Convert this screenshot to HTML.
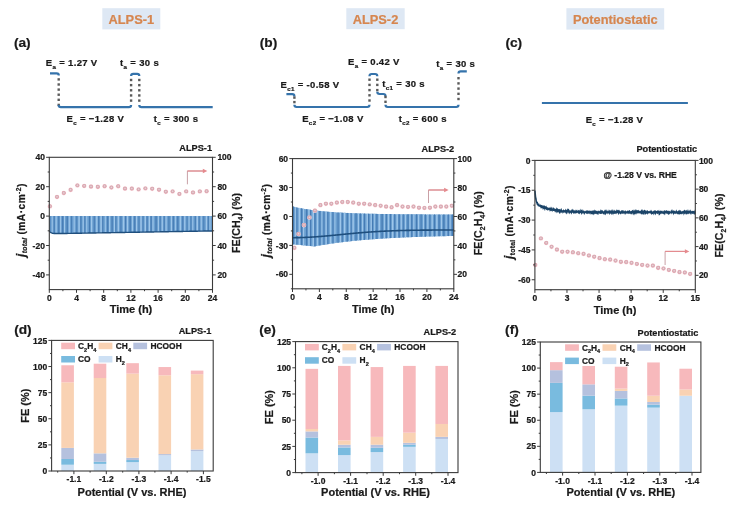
<!DOCTYPE html>
<html><head><meta charset="utf-8"><style>
html,body{margin:0;padding:0;background:#fff;}
body{width:734px;height:508px;overflow:hidden;}
svg{display:block;font-family:"Liberation Sans",sans-serif;filter:blur(0.35px);}
text{stroke:#1a1a1a;stroke-width:0.22px;}
text.or{stroke:#d6864f;}
</style></head><body>
<svg width="734" height="508" viewBox="0 0 734 508">
<defs>
<radialGradient id="sph" cx="0.5" cy="0.45" r="0.5">
<stop offset="0" stop-color="#ecdbdf"/>
<stop offset="0.5" stop-color="#d8acb5"/>
<stop offset="0.8" stop-color="#e3adb6"/>
<stop offset="1" stop-color="#f8d6db"/>
</radialGradient>
</defs>
<rect width="734" height="508" fill="#fff"/>
<rect x="102.30" y="8.20" width="58.00" height="21.20" fill="#dee8f4" />
<text x="131.3" y="23.5" font-size="12.8" text-anchor="middle" font-weight="bold" fill="#d6864f" class="or">ALPS-1</text>
<rect x="346.30" y="8.20" width="58.40" height="21.00" fill="#dee8f4" />
<text x="375.5" y="23.5" font-size="12.8" text-anchor="middle" font-weight="bold" fill="#d6864f" class="or">ALPS-2</text>
<rect x="566.40" y="8.20" width="97.80" height="21.40" fill="#dee8f4" />
<text x="615.3" y="23.5" font-size="12.8" text-anchor="middle" font-weight="bold" fill="#d6864f" class="or">Potentiostatic</text>
<text x="13.9" y="46.9" font-size="13.7" text-anchor="start" font-weight="bold" fill="#1a1a1a" >(a)</text>
<text x="259.8" y="46.9" font-size="13.7" text-anchor="start" font-weight="bold" fill="#1a1a1a" >(b)</text>
<text x="505.4" y="47.4" font-size="13.7" text-anchor="start" font-weight="bold" fill="#1a1a1a" >(c)</text>
<text x="14.2" y="334.0" font-size="13.7" text-anchor="start" font-weight="bold" fill="#1a1a1a" >(d)</text>
<text x="259.2" y="333.9" font-size="13.7" text-anchor="start" font-weight="bold" fill="#1a1a1a" >(e)</text>
<text x="505.1" y="334.0" font-size="13.7" text-anchor="start" font-weight="bold" fill="#1a1a1a" >(f)</text>
<path d="M50.00,73.40 L56.60,73.40 Q58.80,73.40 58.80,75.60" fill="none" stroke="#3573ab" stroke-width="2.2"/>
<rect x="57.50" y="78.20" width="2.40" height="2.40" fill="#5a5a5a" />
<rect x="57.50" y="83.30" width="2.40" height="2.40" fill="#5a5a5a" />
<rect x="57.50" y="88.40" width="2.40" height="2.40" fill="#5a5a5a" />
<rect x="57.50" y="93.50" width="2.40" height="2.40" fill="#5a5a5a" />
<rect x="57.50" y="98.60" width="2.40" height="2.40" fill="#5a5a5a" />
<rect x="57.50" y="103.70" width="2.40" height="2.40" fill="#5a5a5a" />
<path d="M58.70,105.00 Q58.70,107.20 60.90,107.20 L128.90,107.20 Q131.10,107.20 131.10,105.00" fill="none" stroke="#3573ab" stroke-width="2.2"/>
<rect x="129.90" y="78.80" width="2.40" height="2.40" fill="#5a5a5a" />
<rect x="129.90" y="83.95" width="2.40" height="2.40" fill="#5a5a5a" />
<rect x="129.90" y="89.10" width="2.40" height="2.40" fill="#5a5a5a" />
<rect x="129.90" y="94.25" width="2.40" height="2.40" fill="#5a5a5a" />
<rect x="129.90" y="99.40" width="2.40" height="2.40" fill="#5a5a5a" />
<path d="M131.10,76.00 Q131.10,73.80 133.30,73.80 L137.10,73.80 Q139.30,73.80 139.30,76.00" fill="none" stroke="#3573ab" stroke-width="2.2"/>
<rect x="138.10" y="78.80" width="2.40" height="2.40" fill="#5a5a5a" />
<rect x="138.10" y="83.95" width="2.40" height="2.40" fill="#5a5a5a" />
<rect x="138.10" y="89.10" width="2.40" height="2.40" fill="#5a5a5a" />
<rect x="138.10" y="94.25" width="2.40" height="2.40" fill="#5a5a5a" />
<rect x="138.10" y="99.40" width="2.40" height="2.40" fill="#5a5a5a" />
<path d="M139.30,105.00 Q139.30,107.20 141.50,107.20 L212.70,107.20" fill="none" stroke="#3573ab" stroke-width="2.2"/>
<text x="45.8" y="66.3" font-size="9.5" font-weight="bold" letter-spacing="0.33" fill="#1a1a1a">E<tspan font-size="6.2" dy="3.0">a</tspan><tspan dy="-3.0"> = 1.27 V</tspan></text>
<text x="66.6" y="121.5" font-size="9.5" font-weight="bold" letter-spacing="0.33" fill="#1a1a1a">E<tspan font-size="6.2" dy="3.0">c</tspan><tspan dy="-3.0"> = −1.28 V</tspan></text>
<text x="120.1" y="66.1" font-size="9.5" font-weight="bold" letter-spacing="0.33" fill="#1a1a1a">t<tspan font-size="6.2" dy="3.0">a</tspan><tspan dy="-3.0"> = 30 s</tspan></text>
<text x="153.8" y="122.0" font-size="9.5" font-weight="bold" letter-spacing="0.33" fill="#1a1a1a">t<tspan font-size="6.2" dy="3.0">c</tspan><tspan dy="-3.0"> = 300 s</tspan></text>
<path d="M286.40,94.20 L292.20,94.20 Q294.40,94.20 294.40,96.40" fill="none" stroke="#3573ab" stroke-width="2.2"/>
<rect x="293.20" y="96.40" width="2.40" height="2.40" fill="#5a5a5a" />
<rect x="293.20" y="100.90" width="2.40" height="2.40" fill="#5a5a5a" />
<path d="M294.40,104.80 Q294.40,107.00 296.60,107.00 L367.30,107.00 Q369.50,107.00 369.50,104.80" fill="none" stroke="#3573ab" stroke-width="2.2"/>
<rect x="368.30" y="78.50" width="2.40" height="2.40" fill="#5a5a5a" />
<rect x="368.30" y="83.70" width="2.40" height="2.40" fill="#5a5a5a" />
<rect x="368.30" y="88.90" width="2.40" height="2.40" fill="#5a5a5a" />
<rect x="368.30" y="94.10" width="2.40" height="2.40" fill="#5a5a5a" />
<rect x="368.30" y="99.30" width="2.40" height="2.40" fill="#5a5a5a" />
<path d="M369.50,76.20 Q369.50,74.00 371.70,74.00 L375.10,74.00 Q377.30,74.00 377.30,76.20" fill="none" stroke="#3573ab" stroke-width="2.2"/>
<rect x="376.10" y="78.50" width="2.40" height="2.40" fill="#5a5a5a" />
<rect x="376.10" y="83.70" width="2.40" height="2.40" fill="#5a5a5a" />
<rect x="376.10" y="88.90" width="2.40" height="2.40" fill="#5a5a5a" />
<path d="M377.30,91.80 Q377.30,94.00 379.50,94.00 L383.30,94.00 Q385.50,94.00 385.50,96.20" fill="none" stroke="#3573ab" stroke-width="2.2"/>
<rect x="384.30" y="95.80" width="2.40" height="2.40" fill="#5a5a5a" />
<rect x="384.30" y="100.60" width="2.40" height="2.40" fill="#5a5a5a" />
<path d="M385.50,104.80 Q385.50,107.00 387.70,107.00 L456.30,107.00 Q458.50,107.00 458.50,104.80" fill="none" stroke="#3573ab" stroke-width="2.2"/>
<rect x="457.30" y="77.00" width="2.40" height="2.40" fill="#5a5a5a" />
<rect x="457.30" y="82.20" width="2.40" height="2.40" fill="#5a5a5a" />
<rect x="457.30" y="87.40" width="2.40" height="2.40" fill="#5a5a5a" />
<rect x="457.30" y="92.60" width="2.40" height="2.40" fill="#5a5a5a" />
<rect x="457.30" y="97.80" width="2.40" height="2.40" fill="#5a5a5a" />
<path d="M458.50,73.60 Q458.50,71.40 460.70,71.40 L466.80,71.40" fill="none" stroke="#3573ab" stroke-width="2.2"/>
<text x="280.5" y="87.5" font-size="9.5" font-weight="bold" letter-spacing="0.33" fill="#1a1a1a">E<tspan font-size="6.2" dy="3.0">c1</tspan><tspan dy="-3.0"> = -0.58 V</tspan></text>
<text x="302.2" y="121.6" font-size="9.5" font-weight="bold" letter-spacing="0.33" fill="#1a1a1a">E<tspan font-size="6.2" dy="3.0">c2</tspan><tspan dy="-3.0"> = −1.08 V</tspan></text>
<text x="348.0" y="65.3" font-size="9.5" font-weight="bold" letter-spacing="0.33" fill="#1a1a1a">E<tspan font-size="6.2" dy="3.0">a</tspan><tspan dy="-3.0"> = 0.42 V</tspan></text>
<text x="382.3" y="87.2" font-size="9.5" font-weight="bold" letter-spacing="0.33" fill="#1a1a1a">t<tspan font-size="6.2" dy="3.0">c1</tspan><tspan dy="-3.0"> = 30 s</tspan></text>
<text x="436.3" y="66.8" font-size="9.5" font-weight="bold" letter-spacing="0.33" fill="#1a1a1a">t<tspan font-size="6.2" dy="3.0">a</tspan><tspan dy="-3.0"> = 30 s</tspan></text>
<text x="398.7" y="122.1" font-size="9.5" font-weight="bold" letter-spacing="0.33" fill="#1a1a1a">t<tspan font-size="6.2" dy="3.0">c2</tspan><tspan dy="-3.0"> = 600 s</tspan></text>
<line x1="541.90" y1="103.00" x2="687.90" y2="103.00" stroke="#3573ab" stroke-width="2.2" />
<text x="585.7" y="122.6" font-size="9.5" font-weight="bold" letter-spacing="0.33" fill="#1a1a1a">E<tspan font-size="6.2" dy="3.0">c</tspan><tspan dy="-3.0"> = −1.28 V</tspan></text>
<path d="M49.44,216.10 L50.79,216.10 L52.15,216.10 L53.51,216.10 L54.87,216.10 L56.23,216.10 L57.59,216.10 L58.95,216.10 L60.31,216.10 L61.67,216.10 L63.02,216.10 L64.38,216.10 L65.74,216.10 L67.10,216.10 L68.46,216.10 L69.82,216.10 L71.18,216.10 L72.54,216.10 L73.90,216.10 L75.25,216.10 L76.61,216.10 L77.97,216.10 L79.33,216.10 L80.69,216.10 L82.05,216.10 L83.41,216.10 L84.77,216.10 L86.13,216.10 L87.48,216.10 L88.84,216.10 L90.20,216.10 L91.56,216.10 L92.92,216.10 L94.28,216.10 L95.64,216.10 L97.00,216.10 L98.36,216.10 L99.71,216.10 L101.07,216.10 L102.43,216.10 L103.79,216.10 L105.15,216.10 L106.51,216.10 L107.87,216.10 L109.23,216.10 L110.58,216.10 L111.94,216.10 L113.30,216.10 L114.66,216.10 L116.02,216.10 L117.38,216.10 L118.74,216.10 L120.10,216.10 L121.46,216.10 L122.81,216.10 L124.17,216.10 L125.53,216.10 L126.89,216.10 L128.25,216.10 L129.61,216.10 L130.97,216.10 L132.33,216.10 L133.69,216.10 L135.04,216.10 L136.40,216.10 L137.76,216.10 L139.12,216.10 L140.48,216.10 L141.84,216.10 L143.20,216.10 L144.56,216.10 L145.92,216.10 L147.27,216.10 L148.63,216.10 L149.99,216.10 L151.35,216.10 L152.71,216.10 L154.07,216.10 L155.43,216.10 L156.79,216.10 L158.15,216.10 L159.50,216.10 L160.86,216.10 L162.22,216.10 L163.58,216.10 L164.94,216.10 L166.30,216.10 L167.66,216.10 L169.02,216.10 L170.38,216.10 L171.73,216.10 L173.09,216.10 L174.45,216.10 L175.81,216.10 L177.17,216.10 L178.53,216.10 L179.89,216.10 L181.25,216.10 L182.60,216.10 L183.96,216.10 L185.32,216.10 L186.68,216.10 L188.04,216.10 L189.40,216.10 L190.76,216.10 L192.12,216.10 L193.48,216.10 L194.83,216.10 L196.19,216.10 L197.55,216.10 L198.91,216.10 L200.27,216.10 L201.63,216.10 L202.99,216.10 L204.35,216.10 L205.71,216.10 L207.06,216.10 L208.42,216.10 L209.78,216.10 L211.14,216.10 L212.50,216.10 L212.50,230.92 L211.14,230.94 L209.78,230.96 L208.42,230.99 L207.06,231.01 L205.71,231.04 L204.35,231.06 L202.99,231.08 L201.63,231.11 L200.27,231.13 L198.91,231.15 L197.55,231.18 L196.19,231.20 L194.83,231.22 L193.48,231.25 L192.12,231.27 L190.76,231.29 L189.40,231.32 L188.04,231.34 L186.68,231.36 L185.32,231.39 L183.96,231.41 L182.60,231.43 L181.25,231.46 L179.89,231.48 L178.53,231.51 L177.17,231.53 L175.81,231.55 L174.45,231.58 L173.09,231.60 L171.73,231.62 L170.38,231.65 L169.02,231.67 L167.66,231.69 L166.30,231.72 L164.94,231.74 L163.58,231.76 L162.22,231.79 L160.86,231.81 L159.50,231.83 L158.15,231.86 L156.79,231.88 L155.43,231.90 L154.07,231.93 L152.71,231.95 L151.35,231.98 L149.99,232.00 L148.63,232.02 L147.27,232.05 L145.92,232.07 L144.56,232.09 L143.20,232.12 L141.84,232.14 L140.48,232.16 L139.12,232.19 L137.76,232.21 L136.40,232.23 L135.04,232.26 L133.69,232.28 L132.33,232.30 L130.97,232.33 L129.61,232.35 L128.25,232.37 L126.89,232.40 L125.53,232.42 L124.17,232.45 L122.81,232.47 L121.46,232.49 L120.10,232.52 L118.74,232.54 L117.38,232.56 L116.02,232.59 L114.66,232.61 L113.30,232.63 L111.94,232.66 L110.58,232.68 L109.23,232.70 L107.87,232.73 L106.51,232.75 L105.15,232.77 L103.79,232.80 L102.43,232.82 L101.07,232.84 L99.71,232.87 L98.36,232.89 L97.00,232.92 L95.64,232.94 L94.28,232.96 L92.92,232.99 L91.56,233.01 L90.20,233.03 L88.84,233.06 L87.48,233.08 L86.13,233.10 L84.77,233.13 L83.41,233.15 L82.05,233.17 L80.69,233.20 L79.33,233.22 L77.97,233.24 L76.61,233.27 L75.25,233.29 L73.90,233.31 L72.54,233.34 L71.18,233.36 L69.82,233.39 L68.46,233.41 L67.10,233.43 L65.74,233.46 L64.38,233.48 L63.02,233.50 L61.67,233.52 L60.31,233.55 L58.95,233.56 L57.59,233.57 L56.23,233.57 L54.87,233.53 L53.51,233.42 L52.15,233.14 L50.79,232.49 L49.44,231.02 Z" fill="#6a9fd0"/>
<rect x="49.44" y="216.10" width="0.98" height="14.92" fill="#4177b0" opacity="0.9"/>
<rect x="51.76" y="216.10" width="0.94" height="16.90" fill="#a4caec" opacity="0.9"/>
<rect x="53.69" y="216.10" width="1.08" height="17.34" fill="#4177b0" opacity="0.9"/>
<rect x="55.54" y="216.10" width="1.20" height="17.46" fill="#a4caec" opacity="0.9"/>
<rect x="58.24" y="216.10" width="1.12" height="17.47" fill="#4177b0" opacity="0.9"/>
<rect x="60.10" y="216.10" width="0.95" height="17.45" fill="#a4caec" opacity="0.9"/>
<rect x="62.09" y="216.10" width="1.31" height="17.42" fill="#4177b0" opacity="0.9"/>
<rect x="63.99" y="216.10" width="1.03" height="17.39" fill="#a4caec" opacity="0.9"/>
<rect x="66.49" y="216.10" width="1.37" height="17.34" fill="#4177b0" opacity="0.9"/>
<rect x="68.75" y="216.10" width="1.14" height="17.30" fill="#a4caec" opacity="0.9"/>
<rect x="71.16" y="216.10" width="0.92" height="17.26" fill="#4177b0" opacity="0.9"/>
<rect x="73.65" y="216.10" width="1.07" height="17.22" fill="#a4caec" opacity="0.9"/>
<rect x="76.33" y="216.10" width="0.96" height="17.17" fill="#4177b0" opacity="0.9"/>
<rect x="78.38" y="216.10" width="1.39" height="17.14" fill="#a4caec" opacity="0.9"/>
<rect x="80.33" y="216.10" width="1.19" height="17.10" fill="#4177b0" opacity="0.9"/>
<rect x="82.64" y="216.10" width="1.12" height="17.06" fill="#a4caec" opacity="0.9"/>
<rect x="84.39" y="216.10" width="0.93" height="17.03" fill="#4177b0" opacity="0.9"/>
<rect x="86.23" y="216.10" width="1.02" height="17.00" fill="#a4caec" opacity="0.9"/>
<rect x="88.95" y="216.10" width="1.11" height="16.95" fill="#4177b0" opacity="0.9"/>
<rect x="91.00" y="216.10" width="1.25" height="16.92" fill="#a4caec" opacity="0.9"/>
<rect x="93.71" y="216.10" width="1.05" height="16.87" fill="#4177b0" opacity="0.9"/>
<rect x="96.14" y="216.10" width="1.32" height="16.83" fill="#a4caec" opacity="0.9"/>
<rect x="98.14" y="216.10" width="1.19" height="16.80" fill="#4177b0" opacity="0.9"/>
<rect x="100.36" y="216.10" width="1.43" height="16.76" fill="#a4caec" opacity="0.9"/>
<rect x="102.28" y="216.10" width="1.04" height="16.72" fill="#4177b0" opacity="0.9"/>
<rect x="104.87" y="216.10" width="0.97" height="16.68" fill="#a4caec" opacity="0.9"/>
<rect x="107.10" y="216.10" width="1.28" height="16.64" fill="#4177b0" opacity="0.9"/>
<rect x="109.02" y="216.10" width="1.19" height="16.61" fill="#a4caec" opacity="0.9"/>
<rect x="111.49" y="216.10" width="1.23" height="16.56" fill="#4177b0" opacity="0.9"/>
<rect x="113.90" y="216.10" width="1.24" height="16.52" fill="#a4caec" opacity="0.9"/>
<rect x="115.34" y="216.10" width="1.06" height="16.50" fill="#4177b0" opacity="0.9"/>
<rect x="117.70" y="216.10" width="1.26" height="16.46" fill="#a4caec" opacity="0.9"/>
<rect x="120.37" y="216.10" width="1.13" height="16.41" fill="#4177b0" opacity="0.9"/>
<rect x="122.84" y="216.10" width="1.47" height="16.37" fill="#a4caec" opacity="0.9"/>
<rect x="124.98" y="216.10" width="1.23" height="16.33" fill="#4177b0" opacity="0.9"/>
<rect x="126.83" y="216.10" width="1.32" height="16.30" fill="#a4caec" opacity="0.9"/>
<rect x="129.44" y="216.10" width="1.40" height="16.25" fill="#4177b0" opacity="0.9"/>
<rect x="131.90" y="216.10" width="1.07" height="16.21" fill="#a4caec" opacity="0.9"/>
<rect x="134.15" y="216.10" width="1.23" height="16.17" fill="#4177b0" opacity="0.9"/>
<rect x="135.97" y="216.10" width="1.18" height="16.14" fill="#a4caec" opacity="0.9"/>
<rect x="138.49" y="216.10" width="0.96" height="16.10" fill="#4177b0" opacity="0.9"/>
<rect x="140.34" y="216.10" width="1.36" height="16.07" fill="#a4caec" opacity="0.9"/>
<rect x="142.53" y="216.10" width="1.02" height="16.03" fill="#4177b0" opacity="0.9"/>
<rect x="144.64" y="216.10" width="1.42" height="15.99" fill="#a4caec" opacity="0.9"/>
<rect x="146.51" y="216.10" width="1.12" height="15.96" fill="#4177b0" opacity="0.9"/>
<rect x="148.75" y="216.10" width="1.43" height="15.92" fill="#a4caec" opacity="0.9"/>
<rect x="150.42" y="216.10" width="1.33" height="15.89" fill="#4177b0" opacity="0.9"/>
<rect x="152.44" y="216.10" width="1.15" height="15.86" fill="#a4caec" opacity="0.9"/>
<rect x="155.37" y="216.10" width="1.34" height="15.81" fill="#4177b0" opacity="0.9"/>
<rect x="157.93" y="216.10" width="0.99" height="15.76" fill="#a4caec" opacity="0.9"/>
<rect x="159.67" y="216.10" width="1.02" height="15.73" fill="#4177b0" opacity="0.9"/>
<rect x="161.66" y="216.10" width="1.19" height="15.70" fill="#a4caec" opacity="0.9"/>
<rect x="163.72" y="216.10" width="1.03" height="15.66" fill="#4177b0" opacity="0.9"/>
<rect x="165.52" y="216.10" width="1.15" height="15.63" fill="#a4caec" opacity="0.9"/>
<rect x="168.34" y="216.10" width="1.18" height="15.58" fill="#4177b0" opacity="0.9"/>
<rect x="170.90" y="216.10" width="1.31" height="15.54" fill="#a4caec" opacity="0.9"/>
<rect x="172.66" y="216.10" width="1.21" height="15.51" fill="#4177b0" opacity="0.9"/>
<rect x="175.00" y="216.10" width="0.93" height="15.47" fill="#a4caec" opacity="0.9"/>
<rect x="177.18" y="216.10" width="1.29" height="15.43" fill="#4177b0" opacity="0.9"/>
<rect x="179.68" y="216.10" width="1.38" height="15.39" fill="#a4caec" opacity="0.9"/>
<rect x="182.24" y="216.10" width="1.10" height="15.34" fill="#4177b0" opacity="0.9"/>
<rect x="184.12" y="216.10" width="1.28" height="15.31" fill="#a4caec" opacity="0.9"/>
<rect x="186.59" y="216.10" width="0.93" height="15.27" fill="#4177b0" opacity="0.9"/>
<rect x="188.56" y="216.10" width="1.00" height="15.23" fill="#a4caec" opacity="0.9"/>
<rect x="190.48" y="216.10" width="0.93" height="15.20" fill="#4177b0" opacity="0.9"/>
<rect x="192.28" y="216.10" width="0.99" height="15.17" fill="#a4caec" opacity="0.9"/>
<rect x="194.75" y="216.10" width="1.08" height="15.12" fill="#4177b0" opacity="0.9"/>
<rect x="196.57" y="216.10" width="1.42" height="15.09" fill="#a4caec" opacity="0.9"/>
<rect x="198.69" y="216.10" width="0.97" height="15.06" fill="#4177b0" opacity="0.9"/>
<rect x="200.70" y="216.10" width="1.11" height="15.02" fill="#a4caec" opacity="0.9"/>
<rect x="203.35" y="216.10" width="0.96" height="14.98" fill="#4177b0" opacity="0.9"/>
<rect x="205.83" y="216.10" width="1.50" height="14.93" fill="#a4caec" opacity="0.9"/>
<rect x="207.66" y="216.10" width="1.14" height="14.90" fill="#4177b0" opacity="0.9"/>
<rect x="209.53" y="216.10" width="0.96" height="14.87" fill="#a4caec" opacity="0.9"/>
<rect x="212.12" y="216.10" width="0.38" height="14.82" fill="#4177b0" opacity="0.9"/>
<polyline points="49.30,230.80 49.64,231.33 49.98,231.76 50.32,232.11 50.66,232.40 51.00,232.63 51.34,232.82 51.68,232.97 52.02,233.10 52.36,233.20 52.70,233.28 53.04,233.35 53.38,233.40 53.72,233.45 54.06,233.48 54.40,233.51 54.74,233.53 55.08,233.54 55.42,233.55 55.76,233.56 56.10,233.57 56.44,233.57 56.78,233.57 57.12,233.58 57.46,233.57 57.80,233.57 58.14,233.57 58.48,233.57 58.82,233.56 59.16,233.56 59.50,233.56 59.84,233.55 60.18,233.55 60.52,233.54 60.86,233.54 61.20,233.53 61.54,233.53 61.88,233.52 62.22,233.52 62.56,233.51 62.90,233.50 63.24,233.50 63.58,233.49 63.92,233.49 64.26,233.48 64.60,233.48 64.94,233.47 65.28,233.46 65.62,233.46 65.96,233.45 66.30,233.45 66.64,233.44 66.98,233.43 67.32,233.43 67.66,233.42 68.00,233.42 68.34,233.41 68.68,233.40 69.02,233.40 69.36,233.39 69.70,233.39 70.04,233.38 70.38,233.38 70.72,233.37 71.06,233.36 71.40,233.36 71.74,233.35 72.08,233.35 72.42,233.34 72.76,233.33 73.10,233.33 73.44,233.32 73.78,233.32 74.12,233.31 74.46,233.30 74.80,233.30 75.14,233.29 75.48,233.29 75.82,233.28 76.16,233.28 76.50,233.27 76.84,233.26 77.18,233.26 77.52,233.25 77.86,233.25 78.20,233.24 78.54,233.23 78.88,233.23 79.22,233.22 79.56,233.22 79.90,233.21 80.24,233.20 80.58,233.20 80.92,233.19 81.26,233.19 81.60,233.18 81.94,233.18 82.28,233.17 82.62,233.16 82.96,233.16 83.30,233.15 83.64,233.15 83.98,233.14 84.32,233.13 84.66,233.13 85.00,233.12 85.34,233.12 85.68,233.11 86.02,233.10 86.36,233.10 86.70,233.09 87.04,233.09 87.38,233.08 87.72,233.08 88.06,233.07 88.40,233.06 88.74,233.06 89.08,233.05 89.42,233.05 89.76,233.04 90.10,233.03 90.44,233.03 90.78,233.02 91.12,233.02 91.46,233.01 91.80,233.00 92.14,233.00 92.48,232.99 92.82,232.99 93.16,232.98 93.50,232.98 93.84,232.97 94.18,232.96 94.52,232.96 94.86,232.95 95.20,232.95 95.54,232.94 95.88,232.93 96.22,232.93 96.56,232.92 96.90,232.92 97.24,232.91 97.58,232.91 97.92,232.90 98.26,232.89 98.60,232.89 98.94,232.88 99.28,232.88 99.62,232.87 99.96,232.86 100.30,232.86 100.64,232.85 100.98,232.85 101.32,232.84 101.66,232.83 102.00,232.83 102.34,232.82 102.68,232.82 103.02,232.81 103.36,232.81 103.70,232.80 104.04,232.79 104.38,232.79 104.72,232.78 105.06,232.78 105.40,232.77 105.74,232.76 106.08,232.76 106.42,232.75 106.76,232.75 107.10,232.74 107.44,232.73 107.78,232.73 108.12,232.72 108.46,232.72 108.80,232.71 109.14,232.71 109.48,232.70 109.82,232.69 110.16,232.69 110.50,232.68 110.84,232.68 111.18,232.67 111.52,232.66 111.86,232.66 112.20,232.65 112.54,232.65 112.88,232.64 113.22,232.63 113.56,232.63 113.90,232.62 114.24,232.62 114.58,232.61 114.92,232.61 115.26,232.60 115.60,232.59 115.94,232.59 116.28,232.58 116.62,232.58 116.96,232.57 117.30,232.56 117.64,232.56 117.98,232.55 118.32,232.55 118.66,232.54 119.00,232.53 119.34,232.53 119.68,232.52 120.02,232.52 120.36,232.51 120.70,232.51 121.04,232.50 121.38,232.49 121.72,232.49 122.06,232.48 122.40,232.48 122.74,232.47 123.08,232.46 123.42,232.46 123.76,232.45 124.10,232.45 124.44,232.44 124.78,232.43 125.12,232.43 125.46,232.42 125.80,232.42 126.14,232.41 126.48,232.41 126.82,232.40 127.16,232.39 127.50,232.39 127.84,232.38 128.18,232.38 128.52,232.37 128.86,232.36 129.20,232.36 129.54,232.35 129.88,232.35 130.22,232.34 130.56,232.33 130.90,232.33 131.24,232.32 131.58,232.32 131.92,232.31 132.26,232.31 132.60,232.30 132.94,232.29 133.28,232.29 133.62,232.28 133.96,232.28 134.30,232.27 134.64,232.26 134.98,232.26 135.32,232.25 135.66,232.25 136.00,232.24 136.34,232.23 136.68,232.23 137.02,232.22 137.36,232.22 137.70,232.21 138.04,232.21 138.38,232.20 138.72,232.19 139.06,232.19 139.40,232.18 139.74,232.18 140.08,232.17 140.42,232.16 140.76,232.16 141.10,232.15 141.44,232.15 141.78,232.14 142.12,232.13 142.46,232.13 142.80,232.12 143.14,232.12 143.48,232.11 143.82,232.11 144.16,232.10 144.50,232.09 144.84,232.09 145.18,232.08 145.52,232.08 145.86,232.07 146.20,232.06 146.54,232.06 146.88,232.05 147.22,232.05 147.56,232.04 147.90,232.03 148.24,232.03 148.58,232.02 148.92,232.02 149.26,232.01 149.60,232.01 149.94,232.00 150.28,231.99 150.62,231.99 150.96,231.98 151.30,231.98 151.64,231.97 151.98,231.96 152.32,231.96 152.66,231.95 153.00,231.95 153.34,231.94 153.68,231.93 154.02,231.93 154.36,231.92 154.70,231.92 155.04,231.91 155.38,231.91 155.72,231.90 156.06,231.89 156.40,231.89 156.74,231.88 157.08,231.88 157.42,231.87 157.76,231.86 158.10,231.86 158.44,231.85 158.78,231.85 159.12,231.84 159.46,231.83 159.80,231.83 160.14,231.82 160.48,231.82 160.82,231.81 161.16,231.81 161.50,231.80 161.84,231.79 162.18,231.79 162.52,231.78 162.86,231.78 163.20,231.77 163.54,231.76 163.88,231.76 164.22,231.75 164.56,231.75 164.90,231.74 165.24,231.73 165.58,231.73 165.92,231.72 166.26,231.72 166.60,231.71 166.94,231.71 167.28,231.70 167.62,231.69 167.96,231.69 168.30,231.68 168.64,231.68 168.98,231.67 169.32,231.66 169.66,231.66 170.00,231.65 170.34,231.65 170.68,231.64 171.02,231.63 171.36,231.63 171.70,231.62 172.04,231.62 172.38,231.61 172.72,231.61 173.06,231.60 173.40,231.59 173.74,231.59 174.08,231.58 174.42,231.58 174.76,231.57 175.10,231.56 175.44,231.56 175.78,231.55 176.12,231.55 176.46,231.54 176.80,231.54 177.14,231.53 177.48,231.52 177.82,231.52 178.16,231.51 178.50,231.51 178.84,231.50 179.18,231.49 179.52,231.49 179.86,231.48 180.20,231.48 180.54,231.47 180.88,231.46 181.22,231.46 181.56,231.45 181.90,231.45 182.24,231.44 182.58,231.44 182.92,231.43 183.26,231.42 183.60,231.42 183.94,231.41 184.28,231.41 184.62,231.40 184.96,231.39 185.30,231.39 185.64,231.38 185.98,231.38 186.32,231.37 186.66,231.36 187.00,231.36 187.34,231.35 187.68,231.35 188.02,231.34 188.36,231.34 188.70,231.33 189.04,231.32 189.38,231.32 189.72,231.31 190.06,231.31 190.40,231.30 190.74,231.29 191.08,231.29 191.42,231.28 191.76,231.28 192.10,231.27 192.44,231.26 192.78,231.26 193.12,231.25 193.46,231.25 193.80,231.24 194.14,231.24 194.48,231.23 194.82,231.22 195.16,231.22 195.50,231.21 195.84,231.21 196.18,231.20 196.52,231.19 196.86,231.19 197.20,231.18 197.54,231.18 197.88,231.17 198.22,231.16 198.56,231.16 198.90,231.15 199.24,231.15 199.58,231.14 199.92,231.14 200.26,231.13 200.60,231.12 200.94,231.12 201.28,231.11 201.62,231.11 201.96,231.10 202.30,231.09 202.64,231.09 202.98,231.08 203.32,231.08 203.66,231.07 204.00,231.06 204.34,231.06 204.68,231.05 205.02,231.05 205.36,231.04 205.70,231.04 206.04,231.03 206.38,231.02 206.72,231.02 207.06,231.01 207.40,231.01 207.74,231.00 208.08,230.99 208.42,230.99 208.76,230.98 209.10,230.98 209.44,230.97 209.78,230.96 210.12,230.96 210.46,230.95 210.80,230.95 211.14,230.94 211.48,230.94 211.82,230.93 212.16,230.92 212.50,230.92" fill="none" stroke="#1f4f7e" stroke-width="1.4"/>
<circle cx="49.90" cy="206.40" r="2.35" fill="url(#sph)"/>
<circle cx="57.00" cy="197.00" r="2.35" fill="url(#sph)"/>
<circle cx="63.80" cy="193.10" r="2.35" fill="url(#sph)"/>
<circle cx="70.60" cy="189.90" r="2.35" fill="url(#sph)"/>
<circle cx="77.40" cy="185.50" r="2.35" fill="url(#sph)"/>
<circle cx="84.20" cy="186.00" r="2.35" fill="url(#sph)"/>
<circle cx="91.00" cy="186.70" r="2.35" fill="url(#sph)"/>
<circle cx="97.80" cy="186.90" r="2.35" fill="url(#sph)"/>
<circle cx="104.60" cy="186.30" r="2.35" fill="url(#sph)"/>
<circle cx="111.40" cy="187.60" r="2.35" fill="url(#sph)"/>
<circle cx="118.20" cy="186.30" r="2.35" fill="url(#sph)"/>
<circle cx="125.00" cy="188.70" r="2.35" fill="url(#sph)"/>
<circle cx="131.80" cy="188.70" r="2.35" fill="url(#sph)"/>
<circle cx="138.60" cy="189.50" r="2.35" fill="url(#sph)"/>
<circle cx="145.40" cy="188.50" r="2.35" fill="url(#sph)"/>
<circle cx="152.20" cy="188.80" r="2.35" fill="url(#sph)"/>
<circle cx="159.00" cy="189.80" r="2.35" fill="url(#sph)"/>
<circle cx="165.80" cy="191.80" r="2.35" fill="url(#sph)"/>
<circle cx="172.60" cy="191.50" r="2.35" fill="url(#sph)"/>
<circle cx="179.40" cy="194.00" r="2.35" fill="url(#sph)"/>
<circle cx="186.20" cy="191.50" r="2.35" fill="url(#sph)"/>
<circle cx="193.00" cy="192.60" r="2.35" fill="url(#sph)"/>
<circle cx="199.80" cy="191.50" r="2.35" fill="url(#sph)"/>
<circle cx="206.60" cy="191.30" r="2.35" fill="url(#sph)"/>
<rect x="49.30" y="157.30" width="163.20" height="132.30" fill="none" stroke="#3a3a3a" stroke-width="1.1"/>
<line x1="46.10" y1="157.30" x2="49.30" y2="157.30" stroke="#3a3a3a" stroke-width="1" />
<text x="44.9" y="160.4" font-size="8.5" text-anchor="end" font-weight="bold" fill="#1a1a1a" >40</text>
<line x1="46.10" y1="186.70" x2="49.30" y2="186.70" stroke="#3a3a3a" stroke-width="1" />
<text x="44.9" y="189.8" font-size="8.5" text-anchor="end" font-weight="bold" fill="#1a1a1a" >20</text>
<line x1="46.10" y1="216.10" x2="49.30" y2="216.10" stroke="#3a3a3a" stroke-width="1" />
<text x="44.9" y="219.2" font-size="8.5" text-anchor="end" font-weight="bold" fill="#1a1a1a" >0</text>
<line x1="46.10" y1="245.50" x2="49.30" y2="245.50" stroke="#3a3a3a" stroke-width="1" />
<text x="44.9" y="248.6" font-size="8.5" text-anchor="end" font-weight="bold" fill="#1a1a1a" >-20</text>
<line x1="46.10" y1="274.90" x2="49.30" y2="274.90" stroke="#3a3a3a" stroke-width="1" />
<text x="44.9" y="278.0" font-size="8.5" text-anchor="end" font-weight="bold" fill="#1a1a1a" >-40</text>
<line x1="47.70" y1="172.00" x2="49.30" y2="172.00" stroke="#3a3a3a" stroke-width="1" />
<line x1="47.70" y1="201.40" x2="49.30" y2="201.40" stroke="#3a3a3a" stroke-width="1" />
<line x1="47.70" y1="230.80" x2="49.30" y2="230.80" stroke="#3a3a3a" stroke-width="1" />
<line x1="47.70" y1="260.20" x2="49.30" y2="260.20" stroke="#3a3a3a" stroke-width="1" />
<line x1="212.50" y1="157.30" x2="215.70" y2="157.30" stroke="#3a3a3a" stroke-width="1" />
<text x="217.4" y="160.4" font-size="8.5" text-anchor="start" font-weight="bold" fill="#1a1a1a" >100</text>
<line x1="212.50" y1="186.70" x2="215.70" y2="186.70" stroke="#3a3a3a" stroke-width="1" />
<text x="217.4" y="189.8" font-size="8.5" text-anchor="start" font-weight="bold" fill="#1a1a1a" >80</text>
<line x1="212.50" y1="216.10" x2="215.70" y2="216.10" stroke="#3a3a3a" stroke-width="1" />
<text x="217.4" y="219.2" font-size="8.5" text-anchor="start" font-weight="bold" fill="#1a1a1a" >60</text>
<line x1="212.50" y1="245.50" x2="215.70" y2="245.50" stroke="#3a3a3a" stroke-width="1" />
<text x="217.4" y="248.6" font-size="8.5" text-anchor="start" font-weight="bold" fill="#1a1a1a" >40</text>
<line x1="212.50" y1="274.90" x2="215.70" y2="274.90" stroke="#3a3a3a" stroke-width="1" />
<text x="217.4" y="278.0" font-size="8.5" text-anchor="start" font-weight="bold" fill="#1a1a1a" >20</text>
<line x1="212.50" y1="172.00" x2="214.10" y2="172.00" stroke="#3a3a3a" stroke-width="1" />
<line x1="212.50" y1="201.40" x2="214.10" y2="201.40" stroke="#3a3a3a" stroke-width="1" />
<line x1="212.50" y1="230.80" x2="214.10" y2="230.80" stroke="#3a3a3a" stroke-width="1" />
<line x1="212.50" y1="260.20" x2="214.10" y2="260.20" stroke="#3a3a3a" stroke-width="1" />
<line x1="49.30" y1="289.60" x2="49.30" y2="292.80" stroke="#3a3a3a" stroke-width="1" />
<text x="49.3" y="300.6" font-size="8.5" text-anchor="middle" font-weight="bold" fill="#1a1a1a" >0</text>
<line x1="76.50" y1="289.60" x2="76.50" y2="292.80" stroke="#3a3a3a" stroke-width="1" />
<text x="76.5" y="300.6" font-size="8.5" text-anchor="middle" font-weight="bold" fill="#1a1a1a" >4</text>
<line x1="103.70" y1="289.60" x2="103.70" y2="292.80" stroke="#3a3a3a" stroke-width="1" />
<text x="103.7" y="300.6" font-size="8.5" text-anchor="middle" font-weight="bold" fill="#1a1a1a" >8</text>
<line x1="130.90" y1="289.60" x2="130.90" y2="292.80" stroke="#3a3a3a" stroke-width="1" />
<text x="130.9" y="300.6" font-size="8.5" text-anchor="middle" font-weight="bold" fill="#1a1a1a" >12</text>
<line x1="158.10" y1="289.60" x2="158.10" y2="292.80" stroke="#3a3a3a" stroke-width="1" />
<text x="158.1" y="300.6" font-size="8.5" text-anchor="middle" font-weight="bold" fill="#1a1a1a" >16</text>
<line x1="185.30" y1="289.60" x2="185.30" y2="292.80" stroke="#3a3a3a" stroke-width="1" />
<text x="185.3" y="300.6" font-size="8.5" text-anchor="middle" font-weight="bold" fill="#1a1a1a" >20</text>
<line x1="212.50" y1="289.60" x2="212.50" y2="292.80" stroke="#3a3a3a" stroke-width="1" />
<text x="212.5" y="300.6" font-size="8.5" text-anchor="middle" font-weight="bold" fill="#1a1a1a" >24</text>
<line x1="62.90" y1="289.60" x2="62.90" y2="291.20" stroke="#3a3a3a" stroke-width="1" />
<line x1="90.10" y1="289.60" x2="90.10" y2="291.20" stroke="#3a3a3a" stroke-width="1" />
<line x1="117.30" y1="289.60" x2="117.30" y2="291.20" stroke="#3a3a3a" stroke-width="1" />
<line x1="144.50" y1="289.60" x2="144.50" y2="291.20" stroke="#3a3a3a" stroke-width="1" />
<line x1="171.70" y1="289.60" x2="171.70" y2="291.20" stroke="#3a3a3a" stroke-width="1" />
<line x1="198.90" y1="289.60" x2="198.90" y2="291.20" stroke="#3a3a3a" stroke-width="1" />
<path d="M187.4,184.3 L187.4,171.0 L204.3,171.0" fill="none" stroke="#c9a0a6" stroke-width="1"/>
<line x1="187.40" y1="171.00" x2="204.30" y2="171.00" stroke="#e58a8e" stroke-width="1.1" />
<path d="M202.8,168.8 L207.3,171.0 L202.8,173.2 Z" fill="#e58a8e"/>
<text x="212.0" y="151.3" font-size="9.2" text-anchor="end" font-weight="bold" fill="#1a1a1a" >ALPS-1</text>
<text x="131.0" y="313.0" font-size="11.0" text-anchor="middle" font-weight="bold" fill="#1a1a1a" >Time (h)</text>
<text transform="translate(24.6,220.0) rotate(-90)" text-anchor="middle" font-size="10.2" letter-spacing="0.45" font-weight="bold" fill="#1a1a1a"><tspan font-style="italic" font-size="12">j</tspan><tspan font-size="6.8" dy="2.8" letter-spacing="0.2" font-style="italic">total</tspan><tspan dy="-2.8"> (mA·cm</tspan><tspan font-size="6.8" dy="-4">-2</tspan><tspan dy="4">)</tspan></text>
<text transform="translate(240.2,223.0) rotate(-90)" text-anchor="middle" font-size="10.6" letter-spacing="0.1" font-weight="bold" fill="#1a1a1a">FE(CH<tspan font-size="6.8" dy="3.0">4</tspan><tspan dy="-3.0">) (%)</tspan></text>
<path d="M292.63,206.47 L293.98,206.78 L295.32,207.09 L296.66,207.38 L298.01,207.66 L299.35,207.93 L300.69,208.19 L302.04,208.44 L303.38,208.68 L304.72,208.91 L306.06,209.13 L307.41,209.34 L308.75,209.54 L310.09,209.74 L311.44,209.93 L312.78,210.11 L314.12,210.28 L315.47,210.45 L316.81,210.61 L318.15,210.76 L319.50,210.91 L320.84,211.05 L322.18,211.19 L323.52,211.32 L324.87,211.45 L326.21,211.57 L327.55,211.68 L328.90,211.80 L330.24,211.90 L331.58,212.01 L332.93,212.11 L334.27,212.20 L335.61,212.29 L336.95,212.38 L338.30,212.46 L339.64,212.55 L340.98,212.62 L342.33,212.70 L343.67,212.77 L345.01,212.84 L346.36,212.91 L347.70,212.97 L349.04,213.03 L350.39,213.09 L351.73,213.15 L353.07,213.20 L354.41,213.25 L355.76,213.30 L357.10,213.35 L358.44,213.40 L359.79,213.44 L361.13,213.49 L362.47,213.53 L363.82,213.57 L365.16,213.61 L366.50,213.64 L367.85,213.68 L369.19,213.71 L370.53,213.74 L371.87,213.77 L373.22,213.80 L374.56,213.83 L375.90,213.86 L377.25,213.89 L378.59,213.91 L379.93,213.94 L381.28,213.96 L382.62,213.98 L383.96,214.01 L385.30,214.03 L386.65,214.05 L387.99,214.07 L389.33,214.08 L390.68,214.10 L392.02,214.12 L393.36,214.14 L394.71,214.15 L396.05,214.17 L397.39,214.18 L398.74,214.19 L400.08,214.21 L401.42,214.22 L402.76,214.23 L404.11,214.25 L405.45,214.26 L406.79,214.27 L408.14,214.28 L409.48,214.29 L410.82,214.30 L412.17,214.31 L413.51,214.32 L414.85,214.33 L416.19,214.33 L417.54,214.34 L418.88,214.35 L420.22,214.36 L421.57,214.36 L422.91,214.37 L424.25,214.38 L425.60,214.38 L426.94,214.39 L428.28,214.40 L429.63,214.40 L430.97,214.41 L432.31,214.41 L433.65,214.42 L435.00,214.42 L436.34,214.43 L437.68,214.43 L439.03,214.43 L440.37,214.44 L441.71,214.44 L443.06,214.45 L444.40,214.45 L445.74,214.45 L447.08,214.46 L448.43,214.46 L449.77,214.46 L451.11,214.47 L452.46,214.47 L453.80,214.47 L453.80,235.96 L452.46,235.99 L451.11,236.01 L449.77,236.04 L448.43,236.07 L447.08,236.10 L445.74,236.13 L444.40,236.16 L443.06,236.19 L441.71,236.22 L440.37,236.25 L439.03,236.28 L437.68,236.32 L436.34,236.35 L435.00,236.39 L433.65,236.42 L432.31,236.46 L430.97,236.50 L429.63,236.54 L428.28,236.58 L426.94,236.62 L425.60,236.66 L424.25,236.70 L422.91,236.74 L421.57,236.78 L420.22,236.83 L418.88,236.88 L417.54,236.92 L416.19,236.97 L414.85,237.02 L413.51,237.07 L412.17,237.12 L410.82,237.17 L409.48,237.23 L408.14,237.28 L406.79,237.34 L405.45,237.39 L404.11,237.45 L402.76,237.51 L401.42,237.57 L400.08,237.63 L398.74,237.70 L397.39,237.76 L396.05,237.83 L394.71,237.90 L393.36,237.97 L392.02,238.04 L390.68,238.11 L389.33,238.19 L387.99,238.26 L386.65,238.34 L385.30,238.42 L383.96,238.50 L382.62,238.59 L381.28,238.67 L379.93,238.76 L378.59,238.85 L377.25,238.94 L375.90,239.03 L374.56,239.13 L373.22,239.22 L371.87,239.32 L370.53,239.43 L369.19,239.53 L367.85,239.64 L366.50,239.75 L365.16,239.86 L363.82,239.97 L362.47,240.09 L361.13,240.21 L359.79,240.33 L358.44,240.45 L357.10,240.58 L355.76,240.71 L354.41,240.84 L353.07,240.98 L351.73,241.12 L350.39,241.26 L349.04,241.40 L347.70,241.55 L346.36,241.70 L345.01,241.86 L343.67,242.02 L342.33,242.18 L340.98,242.35 L339.64,242.51 L338.30,242.69 L336.95,242.87 L335.61,243.05 L334.27,243.23 L332.93,243.42 L331.58,243.62 L330.24,243.81 L328.90,244.02 L327.55,244.22 L326.21,244.44 L324.87,244.65 L323.52,244.87 L322.18,245.10 L320.84,245.33 L319.50,245.57 L318.15,245.81 L316.81,246.06 L315.47,246.31 L314.12,246.41 L312.78,246.28 L311.44,246.15 L310.09,246.02 L308.75,245.89 L307.41,245.77 L306.06,245.64 L304.72,245.51 L303.38,245.38 L302.04,245.25 L300.69,245.12 L299.35,244.99 L298.01,244.87 L296.66,244.74 L295.32,244.61 L293.98,244.48 L292.63,244.35 Z" fill="#6a9fd0"/>
<rect x="292.63" y="206.47" width="1.38" height="37.88" fill="#4177b0" opacity="0.9"/>
<rect x="294.86" y="206.99" width="0.99" height="37.58" fill="#a4caec" opacity="0.9"/>
<rect x="296.47" y="207.34" width="0.91" height="37.38" fill="#4177b0" opacity="0.9"/>
<rect x="298.69" y="207.80" width="1.49" height="37.13" fill="#a4caec" opacity="0.9"/>
<rect x="301.03" y="208.25" width="1.25" height="36.90" fill="#4177b0" opacity="0.9"/>
<rect x="303.04" y="208.62" width="1.12" height="36.73" fill="#a4caec" opacity="0.9"/>
<rect x="306.04" y="209.12" width="1.29" height="36.51" fill="#4177b0" opacity="0.9"/>
<rect x="308.26" y="209.47" width="1.37" height="36.38" fill="#a4caec" opacity="0.9"/>
<rect x="310.07" y="209.74" width="1.01" height="36.28" fill="#4177b0" opacity="0.9"/>
<rect x="312.52" y="210.07" width="1.49" height="36.18" fill="#a4caec" opacity="0.9"/>
<rect x="314.33" y="210.31" width="1.30" height="36.12" fill="#4177b0" opacity="0.9"/>
<rect x="316.79" y="210.61" width="1.34" height="35.46" fill="#a4caec" opacity="0.9"/>
<rect x="319.32" y="210.89" width="1.16" height="34.71" fill="#4177b0" opacity="0.9"/>
<rect x="321.41" y="211.11" width="0.92" height="34.12" fill="#a4caec" opacity="0.9"/>
<rect x="323.44" y="211.31" width="1.04" height="33.58" fill="#4177b0" opacity="0.9"/>
<rect x="325.45" y="211.50" width="1.32" height="33.06" fill="#a4caec" opacity="0.9"/>
<rect x="327.28" y="211.66" width="1.12" height="32.61" fill="#4177b0" opacity="0.9"/>
<rect x="329.83" y="211.87" width="1.49" height="32.00" fill="#a4caec" opacity="0.9"/>
<rect x="332.42" y="212.07" width="1.08" height="31.43" fill="#4177b0" opacity="0.9"/>
<rect x="334.40" y="212.21" width="1.04" height="31.01" fill="#a4caec" opacity="0.9"/>
<rect x="337.56" y="212.42" width="1.00" height="30.37" fill="#4177b0" opacity="0.9"/>
<rect x="339.86" y="212.56" width="1.44" height="29.93" fill="#a4caec" opacity="0.9"/>
<rect x="341.63" y="212.66" width="1.14" height="29.60" fill="#4177b0" opacity="0.9"/>
<rect x="343.96" y="212.79" width="1.38" height="29.20" fill="#a4caec" opacity="0.9"/>
<rect x="346.61" y="212.92" width="1.23" height="28.76" fill="#4177b0" opacity="0.9"/>
<rect x="349.14" y="213.04" width="1.37" height="28.36" fill="#a4caec" opacity="0.9"/>
<rect x="350.53" y="213.10" width="1.14" height="28.15" fill="#4177b0" opacity="0.9"/>
<rect x="352.47" y="213.18" width="1.37" height="27.86" fill="#a4caec" opacity="0.9"/>
<rect x="355.38" y="213.29" width="1.30" height="27.45" fill="#4177b0" opacity="0.9"/>
<rect x="357.96" y="213.38" width="1.14" height="27.11" fill="#a4caec" opacity="0.9"/>
<rect x="359.64" y="213.44" width="1.37" height="26.90" fill="#4177b0" opacity="0.9"/>
<rect x="362.02" y="213.51" width="1.00" height="26.61" fill="#a4caec" opacity="0.9"/>
<rect x="364.01" y="213.57" width="0.98" height="26.38" fill="#4177b0" opacity="0.9"/>
<rect x="366.53" y="213.64" width="1.38" height="26.10" fill="#a4caec" opacity="0.9"/>
<rect x="367.98" y="213.68" width="1.31" height="25.94" fill="#4177b0" opacity="0.9"/>
<rect x="370.57" y="213.74" width="1.29" height="25.68" fill="#a4caec" opacity="0.9"/>
<rect x="371.99" y="213.78" width="1.17" height="25.54" fill="#4177b0" opacity="0.9"/>
<rect x="373.89" y="213.82" width="0.91" height="25.36" fill="#a4caec" opacity="0.9"/>
<rect x="376.28" y="213.87" width="1.22" height="25.14" fill="#4177b0" opacity="0.9"/>
<rect x="378.50" y="213.91" width="1.46" height="24.94" fill="#a4caec" opacity="0.9"/>
<rect x="381.44" y="213.96" width="1.34" height="24.70" fill="#4177b0" opacity="0.9"/>
<rect x="383.90" y="214.00" width="1.03" height="24.50" fill="#a4caec" opacity="0.9"/>
<rect x="385.85" y="214.03" width="1.05" height="24.36" fill="#4177b0" opacity="0.9"/>
<rect x="387.84" y="214.06" width="1.25" height="24.21" fill="#a4caec" opacity="0.9"/>
<rect x="390.00" y="214.09" width="1.11" height="24.06" fill="#4177b0" opacity="0.9"/>
<rect x="391.90" y="214.12" width="1.45" height="23.93" fill="#a4caec" opacity="0.9"/>
<rect x="394.16" y="214.14" width="1.13" height="23.78" fill="#4177b0" opacity="0.9"/>
<rect x="396.43" y="214.17" width="1.44" height="23.64" fill="#a4caec" opacity="0.9"/>
<rect x="398.46" y="214.19" width="1.36" height="23.52" fill="#4177b0" opacity="0.9"/>
<rect x="400.66" y="214.21" width="1.22" height="23.39" fill="#a4caec" opacity="0.9"/>
<rect x="402.85" y="214.23" width="0.91" height="23.27" fill="#4177b0" opacity="0.9"/>
<rect x="405.00" y="214.25" width="1.01" height="23.16" fill="#a4caec" opacity="0.9"/>
<rect x="407.38" y="214.27" width="1.30" height="23.04" fill="#4177b0" opacity="0.9"/>
<rect x="409.32" y="214.29" width="1.18" height="22.94" fill="#a4caec" opacity="0.9"/>
<rect x="411.18" y="214.30" width="1.18" height="22.86" fill="#4177b0" opacity="0.9"/>
<rect x="413.24" y="214.31" width="1.21" height="22.76" fill="#a4caec" opacity="0.9"/>
<rect x="416.00" y="214.33" width="1.29" height="22.64" fill="#4177b0" opacity="0.9"/>
<rect x="417.88" y="214.34" width="1.24" height="22.57" fill="#a4caec" opacity="0.9"/>
<rect x="420.58" y="214.36" width="1.04" height="22.46" fill="#4177b0" opacity="0.9"/>
<rect x="422.99" y="214.37" width="1.20" height="22.37" fill="#a4caec" opacity="0.9"/>
<rect x="424.72" y="214.38" width="1.28" height="22.30" fill="#4177b0" opacity="0.9"/>
<rect x="427.25" y="214.39" width="1.17" height="22.21" fill="#a4caec" opacity="0.9"/>
<rect x="429.31" y="214.40" width="1.15" height="22.15" fill="#4177b0" opacity="0.9"/>
<rect x="431.52" y="214.41" width="1.32" height="22.07" fill="#a4caec" opacity="0.9"/>
<rect x="433.97" y="214.42" width="1.17" height="22.00" fill="#4177b0" opacity="0.9"/>
<rect x="436.15" y="214.43" width="1.46" height="21.93" fill="#a4caec" opacity="0.9"/>
<rect x="438.40" y="214.43" width="1.34" height="21.87" fill="#4177b0" opacity="0.9"/>
<rect x="440.96" y="214.44" width="1.06" height="21.80" fill="#a4caec" opacity="0.9"/>
<rect x="443.18" y="214.45" width="1.37" height="21.74" fill="#4177b0" opacity="0.9"/>
<rect x="445.65" y="214.45" width="0.98" height="21.68" fill="#a4caec" opacity="0.9"/>
<rect x="447.76" y="214.46" width="1.12" height="21.63" fill="#4177b0" opacity="0.9"/>
<rect x="449.62" y="214.46" width="1.04" height="21.58" fill="#a4caec" opacity="0.9"/>
<rect x="451.73" y="214.47" width="1.23" height="21.53" fill="#4177b0" opacity="0.9"/>
<polyline points="292.50,237.68 292.84,237.68 293.17,237.68 293.51,237.68 293.84,237.68 294.18,237.68 294.52,237.68 294.85,237.67 295.19,237.67 295.52,237.67 295.86,237.67 296.20,237.66 296.53,237.66 296.87,237.65 297.20,237.65 297.54,237.64 297.88,237.64 298.21,237.63 298.55,237.62 298.88,237.62 299.22,237.61 299.56,237.60 299.89,237.59 300.23,237.58 300.56,237.57 300.90,237.56 301.24,237.56 301.57,237.55 301.91,237.53 302.25,237.52 302.58,237.51 302.92,237.50 303.25,237.49 303.59,237.48 303.93,237.46 304.26,237.45 304.60,237.44 304.93,237.42 305.27,237.41 305.61,237.40 305.94,237.38 306.28,237.37 306.61,237.35 306.95,237.34 307.29,237.32 307.62,237.30 307.96,237.29 308.29,237.27 308.63,237.25 308.97,237.23 309.30,237.22 309.64,237.20 309.97,237.18 310.31,237.16 310.65,237.14 310.98,237.12 311.32,237.10 311.65,237.08 311.99,237.06 312.33,237.04 312.66,237.02 313.00,237.00 313.33,236.98 313.67,236.96 314.01,236.93 314.34,236.91 314.68,236.89 315.01,236.87 315.35,236.84 315.69,236.82 316.02,236.79 316.36,236.77 316.69,236.75 317.03,236.72 317.37,236.70 317.70,236.67 318.04,236.65 318.38,236.62 318.71,236.60 319.05,236.57 319.38,236.54 319.72,236.52 320.06,236.49 320.39,236.46 320.73,236.44 321.06,236.41 321.40,236.38 321.74,236.35 322.07,236.33 322.41,236.30 322.74,236.27 323.08,236.24 323.42,236.21 323.75,236.18 324.09,236.16 324.42,236.13 324.76,236.10 325.10,236.07 325.43,236.04 325.77,236.01 326.10,235.98 326.44,235.95 326.78,235.92 327.11,235.89 327.45,235.86 327.78,235.83 328.12,235.79 328.46,235.76 328.79,235.73 329.13,235.70 329.46,235.67 329.80,235.64 330.14,235.61 330.47,235.58 330.81,235.54 331.14,235.51 331.48,235.48 331.82,235.45 332.15,235.42 332.49,235.38 332.82,235.35 333.16,235.32 333.50,235.29 333.83,235.25 334.17,235.22 334.51,235.19 334.84,235.16 335.18,235.12 335.51,235.09 335.85,235.06 336.19,235.03 336.52,234.99 336.86,234.96 337.19,234.93 337.53,234.89 337.87,234.86 338.20,234.83 338.54,234.79 338.87,234.76 339.21,234.73 339.55,234.70 339.88,234.66 340.22,234.63 340.55,234.60 340.89,234.56 341.23,234.53 341.56,234.50 341.90,234.46 342.23,234.43 342.57,234.40 342.91,234.37 343.24,234.33 343.58,234.30 343.91,234.27 344.25,234.23 344.59,234.20 344.92,234.17 345.26,234.14 345.59,234.10 345.93,234.07 346.27,234.04 346.60,234.00 346.94,233.97 347.27,233.94 347.61,233.91 347.95,233.88 348.28,233.84 348.62,233.81 348.95,233.78 349.29,233.75 349.63,233.72 349.96,233.68 350.30,233.65 350.64,233.62 350.97,233.59 351.31,233.56 351.64,233.53 351.98,233.49 352.32,233.46 352.65,233.43 352.99,233.40 353.32,233.37 353.66,233.34 354.00,233.31 354.33,233.28 354.67,233.25 355.00,233.22 355.34,233.19 355.68,233.16 356.01,233.13 356.35,233.10 356.68,233.07 357.02,233.04 357.36,233.01 357.69,232.98 358.03,232.95 358.36,232.92 358.70,232.89 359.04,232.86 359.37,232.84 359.71,232.81 360.04,232.78 360.38,232.75 360.72,232.72 361.05,232.69 361.39,232.67 361.72,232.64 362.06,232.61 362.40,232.58 362.73,232.56 363.07,232.53 363.40,232.50 363.74,232.48 364.08,232.45 364.41,232.42 364.75,232.40 365.09,232.37 365.42,232.35 365.76,232.32 366.09,232.30 366.43,232.27 366.77,232.24 367.10,232.22 367.44,232.19 367.77,232.17 368.11,232.15 368.45,232.12 368.78,232.10 369.12,232.07 369.45,232.05 369.79,232.02 370.13,232.00 370.46,231.98 370.80,231.95 371.13,231.93 371.47,231.91 371.81,231.89 372.14,231.86 372.48,231.84 372.81,231.82 373.15,231.80 373.49,231.78 373.82,231.75 374.16,231.73 374.49,231.71 374.83,231.69 375.17,231.67 375.50,231.65 375.84,231.63 376.17,231.61 376.51,231.59 376.85,231.57 377.18,231.55 377.52,231.53 377.85,231.51 378.19,231.49 378.53,231.47 378.86,231.45 379.20,231.43 379.53,231.41 379.87,231.39 380.21,231.37 380.54,231.36 380.88,231.34 381.22,231.32 381.55,231.30 381.89,231.28 382.22,231.27 382.56,231.25 382.90,231.23 383.23,231.22 383.57,231.20 383.90,231.18 384.24,231.17 384.58,231.15 384.91,231.13 385.25,231.12 385.58,231.10 385.92,231.09 386.26,231.07 386.59,231.06 386.93,231.04 387.26,231.03 387.60,231.01 387.94,231.00 388.27,230.98 388.61,230.97 388.94,230.95 389.28,230.94 389.62,230.93 389.95,230.91 390.29,230.90 390.62,230.88 390.96,230.87 391.30,230.86 391.63,230.84 391.97,230.83 392.30,230.82 392.64,230.81 392.98,230.79 393.31,230.78 393.65,230.77 393.98,230.76 394.32,230.75 394.66,230.73 394.99,230.72 395.33,230.71 395.66,230.70 396.00,230.69 396.34,230.68 396.67,230.67 397.01,230.66 397.35,230.65 397.68,230.64 398.02,230.62 398.35,230.61 398.69,230.60 399.03,230.59 399.36,230.58 399.70,230.57 400.03,230.57 400.37,230.56 400.71,230.55 401.04,230.54 401.38,230.53 401.71,230.52 402.05,230.51 402.39,230.50 402.72,230.49 403.06,230.48 403.39,230.48 403.73,230.47 404.07,230.46 404.40,230.45 404.74,230.44 405.07,230.44 405.41,230.43 405.75,230.42 406.08,230.41 406.42,230.41 406.75,230.40 407.09,230.39 407.43,230.38 407.76,230.38 408.10,230.37 408.43,230.36 408.77,230.36 409.11,230.35 409.44,230.34 409.78,230.34 410.11,230.33 410.45,230.32 410.79,230.32 411.12,230.31 411.46,230.31 411.79,230.30 412.13,230.29 412.47,230.29 412.80,230.28 413.14,230.28 413.48,230.27 413.81,230.27 414.15,230.26 414.48,230.26 414.82,230.25 415.16,230.24 415.49,230.24 415.83,230.23 416.16,230.23 416.50,230.23 416.84,230.22 417.17,230.22 417.51,230.21 417.84,230.21 418.18,230.20 418.52,230.20 418.85,230.19 419.19,230.19 419.52,230.19 419.86,230.18 420.20,230.18 420.53,230.17 420.87,230.17 421.20,230.17 421.54,230.16 421.88,230.16 422.21,230.15 422.55,230.15 422.88,230.15 423.22,230.14 423.56,230.14 423.89,230.14 424.23,230.13 424.56,230.13 424.90,230.13 425.24,230.12 425.57,230.12 425.91,230.12 426.24,230.12 426.58,230.11 426.92,230.11 427.25,230.11 427.59,230.10 427.92,230.10 428.26,230.10 428.60,230.10 428.93,230.09 429.27,230.09 429.61,230.09 429.94,230.09 430.28,230.08 430.61,230.08 430.95,230.08 431.29,230.08 431.62,230.08 431.96,230.07 432.29,230.07 432.63,230.07 432.97,230.07 433.30,230.06 433.64,230.06 433.97,230.06 434.31,230.06 434.65,230.06 434.98,230.06 435.32,230.05 435.65,230.05 435.99,230.05 436.33,230.05 436.66,230.05 437.00,230.04 437.33,230.04 437.67,230.04 438.01,230.04 438.34,230.04 438.68,230.04 439.01,230.04 439.35,230.03 439.69,230.03 440.02,230.03 440.36,230.03 440.69,230.03 441.03,230.03 441.37,230.03 441.70,230.02 442.04,230.02 442.37,230.02 442.71,230.02 443.05,230.02 443.38,230.02 443.72,230.02 444.05,230.02 444.39,230.02 444.73,230.01 445.06,230.01 445.40,230.01 445.74,230.01 446.07,230.01 446.41,230.01 446.74,230.01 447.08,230.01 447.42,230.01 447.75,230.01 448.09,230.01 448.42,230.00 448.76,230.00 449.10,230.00 449.43,230.00 449.77,230.00 450.10,230.00 450.44,230.00 450.78,230.00 451.11,230.00 451.45,230.00 451.78,230.00 452.12,230.00 452.46,230.00 452.79,230.00 453.13,229.99 453.46,229.99 453.80,229.99" fill="none" stroke="#1f4f7e" stroke-width="1.6"/>
<circle cx="294.40" cy="247.90" r="2.35" fill="url(#sph)"/>
<circle cx="298.50" cy="234.00" r="2.35" fill="url(#sph)"/>
<circle cx="303.98" cy="225.10" r="2.35" fill="url(#sph)"/>
<circle cx="309.45" cy="217.50" r="2.35" fill="url(#sph)"/>
<circle cx="314.93" cy="210.70" r="2.35" fill="url(#sph)"/>
<circle cx="320.40" cy="205.20" r="2.35" fill="url(#sph)"/>
<circle cx="325.88" cy="203.80" r="2.35" fill="url(#sph)"/>
<circle cx="331.35" cy="203.80" r="2.35" fill="url(#sph)"/>
<circle cx="336.82" cy="202.70" r="2.35" fill="url(#sph)"/>
<circle cx="342.30" cy="202.10" r="2.35" fill="url(#sph)"/>
<circle cx="347.77" cy="202.10" r="2.35" fill="url(#sph)"/>
<circle cx="353.25" cy="202.70" r="2.35" fill="url(#sph)"/>
<circle cx="358.73" cy="203.80" r="2.35" fill="url(#sph)"/>
<circle cx="364.20" cy="203.80" r="2.35" fill="url(#sph)"/>
<circle cx="369.68" cy="204.50" r="2.35" fill="url(#sph)"/>
<circle cx="375.15" cy="205.20" r="2.35" fill="url(#sph)"/>
<circle cx="380.62" cy="205.80" r="2.35" fill="url(#sph)"/>
<circle cx="386.10" cy="206.70" r="2.35" fill="url(#sph)"/>
<circle cx="391.58" cy="207.40" r="2.35" fill="url(#sph)"/>
<circle cx="397.05" cy="205.20" r="2.35" fill="url(#sph)"/>
<circle cx="402.52" cy="206.70" r="2.35" fill="url(#sph)"/>
<circle cx="408.00" cy="207.00" r="2.35" fill="url(#sph)"/>
<circle cx="413.48" cy="206.70" r="2.35" fill="url(#sph)"/>
<circle cx="418.95" cy="207.80" r="2.35" fill="url(#sph)"/>
<circle cx="424.43" cy="208.00" r="2.35" fill="url(#sph)"/>
<circle cx="429.90" cy="207.80" r="2.35" fill="url(#sph)"/>
<circle cx="435.38" cy="206.70" r="2.35" fill="url(#sph)"/>
<circle cx="440.85" cy="206.70" r="2.35" fill="url(#sph)"/>
<circle cx="446.33" cy="206.70" r="2.35" fill="url(#sph)"/>
<circle cx="451.80" cy="205.80" r="2.35" fill="url(#sph)"/>
<rect x="292.50" y="158.60" width="161.30" height="130.20" fill="none" stroke="#3a3a3a" stroke-width="1.1"/>
<line x1="289.30" y1="158.60" x2="292.50" y2="158.60" stroke="#3a3a3a" stroke-width="1" />
<text x="288.1" y="161.7" font-size="8.5" text-anchor="end" font-weight="bold" fill="#1a1a1a" >60</text>
<line x1="289.30" y1="187.53" x2="292.50" y2="187.53" stroke="#3a3a3a" stroke-width="1" />
<text x="288.1" y="190.6" font-size="8.5" text-anchor="end" font-weight="bold" fill="#1a1a1a" >30</text>
<line x1="289.30" y1="216.47" x2="292.50" y2="216.47" stroke="#3a3a3a" stroke-width="1" />
<text x="288.1" y="219.5" font-size="8.5" text-anchor="end" font-weight="bold" fill="#1a1a1a" >0</text>
<line x1="289.30" y1="245.40" x2="292.50" y2="245.40" stroke="#3a3a3a" stroke-width="1" />
<text x="288.1" y="248.5" font-size="8.5" text-anchor="end" font-weight="bold" fill="#1a1a1a" >-30</text>
<line x1="289.30" y1="274.33" x2="292.50" y2="274.33" stroke="#3a3a3a" stroke-width="1" />
<text x="288.1" y="277.4" font-size="8.5" text-anchor="end" font-weight="bold" fill="#1a1a1a" >-60</text>
<line x1="290.90" y1="173.07" x2="292.50" y2="173.07" stroke="#3a3a3a" stroke-width="1" />
<line x1="290.90" y1="202.00" x2="292.50" y2="202.00" stroke="#3a3a3a" stroke-width="1" />
<line x1="290.90" y1="230.93" x2="292.50" y2="230.93" stroke="#3a3a3a" stroke-width="1" />
<line x1="290.90" y1="259.87" x2="292.50" y2="259.87" stroke="#3a3a3a" stroke-width="1" />
<line x1="290.90" y1="288.80" x2="292.50" y2="288.80" stroke="#3a3a3a" stroke-width="1" />
<line x1="453.80" y1="158.60" x2="457.00" y2="158.60" stroke="#3a3a3a" stroke-width="1" />
<text x="457.5" y="161.7" font-size="8.5" text-anchor="start" font-weight="bold" fill="#1a1a1a" >100</text>
<line x1="453.80" y1="187.53" x2="457.00" y2="187.53" stroke="#3a3a3a" stroke-width="1" />
<text x="457.5" y="190.6" font-size="8.5" text-anchor="start" font-weight="bold" fill="#1a1a1a" >80</text>
<line x1="453.80" y1="216.47" x2="457.00" y2="216.47" stroke="#3a3a3a" stroke-width="1" />
<text x="457.5" y="219.5" font-size="8.5" text-anchor="start" font-weight="bold" fill="#1a1a1a" >60</text>
<line x1="453.80" y1="245.40" x2="457.00" y2="245.40" stroke="#3a3a3a" stroke-width="1" />
<text x="457.5" y="248.5" font-size="8.5" text-anchor="start" font-weight="bold" fill="#1a1a1a" >40</text>
<line x1="453.80" y1="274.33" x2="457.00" y2="274.33" stroke="#3a3a3a" stroke-width="1" />
<text x="457.5" y="277.4" font-size="8.5" text-anchor="start" font-weight="bold" fill="#1a1a1a" >20</text>
<line x1="453.80" y1="173.07" x2="455.40" y2="173.07" stroke="#3a3a3a" stroke-width="1" />
<line x1="453.80" y1="202.00" x2="455.40" y2="202.00" stroke="#3a3a3a" stroke-width="1" />
<line x1="453.80" y1="230.93" x2="455.40" y2="230.93" stroke="#3a3a3a" stroke-width="1" />
<line x1="453.80" y1="259.87" x2="455.40" y2="259.87" stroke="#3a3a3a" stroke-width="1" />
<line x1="292.50" y1="288.80" x2="292.50" y2="292.00" stroke="#3a3a3a" stroke-width="1" />
<text x="292.5" y="299.6" font-size="8.5" text-anchor="middle" font-weight="bold" fill="#1a1a1a" >0</text>
<line x1="319.38" y1="288.80" x2="319.38" y2="292.00" stroke="#3a3a3a" stroke-width="1" />
<text x="319.4" y="299.6" font-size="8.5" text-anchor="middle" font-weight="bold" fill="#1a1a1a" >4</text>
<line x1="346.27" y1="288.80" x2="346.27" y2="292.00" stroke="#3a3a3a" stroke-width="1" />
<text x="346.3" y="299.6" font-size="8.5" text-anchor="middle" font-weight="bold" fill="#1a1a1a" >8</text>
<line x1="373.15" y1="288.80" x2="373.15" y2="292.00" stroke="#3a3a3a" stroke-width="1" />
<text x="373.1" y="299.6" font-size="8.5" text-anchor="middle" font-weight="bold" fill="#1a1a1a" >12</text>
<line x1="400.03" y1="288.80" x2="400.03" y2="292.00" stroke="#3a3a3a" stroke-width="1" />
<text x="400.0" y="299.6" font-size="8.5" text-anchor="middle" font-weight="bold" fill="#1a1a1a" >16</text>
<line x1="426.92" y1="288.80" x2="426.92" y2="292.00" stroke="#3a3a3a" stroke-width="1" />
<text x="426.9" y="299.6" font-size="8.5" text-anchor="middle" font-weight="bold" fill="#1a1a1a" >20</text>
<line x1="453.80" y1="288.80" x2="453.80" y2="292.00" stroke="#3a3a3a" stroke-width="1" />
<text x="453.8" y="299.6" font-size="8.5" text-anchor="middle" font-weight="bold" fill="#1a1a1a" >24</text>
<line x1="305.94" y1="288.80" x2="305.94" y2="290.40" stroke="#3a3a3a" stroke-width="1" />
<line x1="332.82" y1="288.80" x2="332.82" y2="290.40" stroke="#3a3a3a" stroke-width="1" />
<line x1="359.71" y1="288.80" x2="359.71" y2="290.40" stroke="#3a3a3a" stroke-width="1" />
<line x1="386.59" y1="288.80" x2="386.59" y2="290.40" stroke="#3a3a3a" stroke-width="1" />
<line x1="413.48" y1="288.80" x2="413.48" y2="290.40" stroke="#3a3a3a" stroke-width="1" />
<line x1="440.36" y1="288.80" x2="440.36" y2="290.40" stroke="#3a3a3a" stroke-width="1" />
<path d="M428.5,203.0 L428.5,190.0 L445.6,190.0" fill="none" stroke="#c9a0a6" stroke-width="1"/>
<line x1="428.50" y1="190.00" x2="445.60" y2="190.00" stroke="#e58a8e" stroke-width="1.1" />
<path d="M444.1,187.8 L448.6,190.0 L444.1,192.2 Z" fill="#e58a8e"/>
<text x="454.2" y="152.4" font-size="9.2" text-anchor="end" font-weight="bold" fill="#1a1a1a" >ALPS-2</text>
<text x="373.2" y="312.7" font-size="11.0" text-anchor="middle" font-weight="bold" fill="#1a1a1a" >Time (h)</text>
<text transform="translate(269.5,220.5) rotate(-90)" text-anchor="middle" font-size="10.2" letter-spacing="0.45" font-weight="bold" fill="#1a1a1a"><tspan font-style="italic" font-size="12">j</tspan><tspan font-size="6.8" dy="2.8" letter-spacing="0.2" font-style="italic">total</tspan><tspan dy="-2.8"> (mA·cm</tspan><tspan font-size="6.8" dy="-4">-2</tspan><tspan dy="4">)</tspan></text>
<text transform="translate(482.3,223.2) rotate(-90)" text-anchor="middle" font-size="10.6" letter-spacing="0.1" font-weight="bold" fill="#1a1a1a">FE(C<tspan font-size="6.8" dy="3.0">2</tspan><tspan dy="-3.0">H</tspan><tspan font-size="6.8" dy="3.0">4</tspan><tspan dy="-3.0">) (%)</tspan></text>
<polyline points="534.90,190.67 535.01,191.78 535.11,193.08 535.22,194.10 535.33,195.04 535.43,196.23 535.54,197.08 535.65,197.50 535.76,198.53 535.86,199.05 535.97,199.31 536.08,200.03 536.18,200.19 536.29,200.92 536.40,201.24 536.50,201.80 536.61,201.86 536.72,202.14 536.82,202.55 536.93,202.71 537.04,202.89 537.15,203.43 537.25,203.35 537.36,203.60 537.47,203.99 537.57,204.16 537.68,203.97 537.79,204.27 537.89,204.20 538.00,204.36 538.11,204.54 538.21,204.57 538.32,204.93 538.43,204.81 538.54,205.05 538.64,204.94 538.75,204.87 538.86,205.44 538.96,205.50 539.07,205.54 539.18,205.09 539.28,205.59 539.39,205.59 539.50,205.78 539.61,205.76 539.71,205.87 539.82,205.94 539.93,205.91 540.03,205.92 540.14,205.89 540.25,206.03 540.35,205.99 540.46,205.90 540.57,206.07 540.67,206.24 540.78,206.49 540.89,206.09 541.00,206.27 541.10,206.34 541.21,206.52 541.32,206.41 541.42,206.75 541.53,206.55 541.64,206.70 541.74,206.96 541.85,206.99 541.96,206.72 542.06,206.70 542.17,207.30 542.28,206.86 542.39,207.06 542.49,207.20 542.60,207.28 542.71,207.04 542.81,207.03 542.92,207.40 543.03,207.16 543.13,207.48 543.24,207.25 543.35,207.44 543.45,207.08 543.56,207.26 543.67,207.48 543.78,207.32 543.88,207.72 543.99,207.76 544.10,207.59 544.20,207.85 544.31,207.96 544.42,207.77 544.52,207.72 544.63,207.94 544.74,208.24 544.84,207.72 544.95,207.98 545.06,207.75 545.17,207.62 545.27,208.05 545.38,208.05 545.49,208.06 545.59,207.97 545.70,208.09 545.81,208.14 545.91,208.14 546.02,207.84 546.13,208.25 546.23,208.31 546.34,208.23 546.45,208.57 546.56,208.45 546.66,208.21 546.77,208.42 546.88,208.42 546.98,208.69 547.09,208.55 547.20,208.52 547.30,209.00 547.41,208.56 547.52,208.58 547.63,208.84 547.73,208.58 547.84,208.73 547.95,208.67 548.05,208.83 548.16,208.61 548.27,208.73 548.37,209.04 548.48,209.05 548.59,208.75 548.69,208.74 548.80,209.05 548.91,208.99 549.02,208.92 549.12,209.10 549.23,209.10 549.34,209.15 549.44,209.21 549.55,209.09 549.66,209.23 549.76,209.22 549.87,208.96 549.98,209.41 550.08,209.21 550.19,209.17 550.30,209.45 550.41,209.42 550.51,209.21 550.62,209.46 550.73,209.65 550.83,209.42 550.94,209.34 551.05,209.60 551.15,209.62 551.26,209.55 551.37,209.37 551.47,209.55 551.58,209.24 551.69,209.70 551.80,209.66 551.90,209.55 552.01,209.29 552.12,209.67 552.22,209.78 552.33,209.84 552.44,209.68 552.54,209.85 552.65,209.63 552.76,209.63 552.86,210.06 552.97,209.89 553.08,209.70 553.19,209.79 553.29,209.59 553.40,209.94 553.51,210.05 553.61,210.00 553.72,209.68 553.83,210.04 553.93,210.03 554.04,210.02 554.15,210.08 554.25,210.06 554.36,209.87 554.47,210.19 554.58,210.51 554.68,209.92 554.79,209.96 554.90,209.93 555.00,210.20 555.11,209.98 555.22,210.00 555.32,210.30 555.43,209.99 555.54,210.09 555.65,210.17 555.75,210.25 555.86,210.45 555.97,210.35 556.07,210.41 556.18,210.49 556.29,210.25 556.39,210.43 556.50,210.24 556.61,210.55 556.71,210.03 556.82,210.33 556.93,210.25 557.04,210.27 557.14,210.10 557.25,210.43 557.36,210.67 557.46,210.39 557.57,210.79 557.68,210.59 557.78,210.46 557.89,210.53 558.00,210.63 558.10,210.39 558.21,210.54 558.32,210.66 558.43,210.82 558.53,210.48 558.64,210.64 558.75,210.53 558.85,210.79 558.96,210.79 559.07,210.67 559.17,210.57 559.28,210.99 559.39,210.60 559.49,210.56 559.60,210.62 559.71,210.47 559.82,210.96 559.92,210.73 560.03,210.65 560.14,211.19 560.24,210.90 560.35,210.92 560.46,210.82 560.56,210.91 560.67,210.87 560.78,210.76 560.88,211.08 560.99,211.28 561.10,211.05 561.21,211.06 561.31,211.09 561.42,210.52 561.53,210.80 561.63,211.12 561.74,210.96 561.85,211.13 561.95,211.06 562.06,211.05 562.17,210.94 562.27,210.94 562.38,211.08 562.49,211.16 562.60,211.11 562.70,211.38 562.81,211.04 562.92,210.98 563.02,211.13 563.13,211.46 563.24,211.23 563.34,211.16 563.45,211.07 563.56,210.88 563.67,211.18 563.77,211.02 563.88,211.10 563.99,211.22 564.09,211.22 564.20,211.18 564.31,211.11 564.41,211.26 564.52,211.13 564.63,211.23 564.73,211.32 564.84,211.20 564.95,211.16 565.06,211.42 565.16,211.28 565.27,211.33 565.38,211.12 565.48,211.10 565.59,211.33 565.70,210.94 565.80,211.18 565.91,211.40 566.02,211.33 566.12,211.65 566.23,211.21 566.34,211.27 566.45,211.19 566.55,211.10 566.66,211.29 566.77,211.27 566.87,211.35 566.98,211.73 567.09,211.35 567.19,211.59 567.30,211.54 567.41,211.17 567.51,211.60 567.62,211.58 567.73,211.59 567.84,211.10 567.94,211.57 568.05,211.64 568.16,211.32 568.26,211.79 568.37,211.33 568.48,211.41 568.58,211.35 568.69,211.09 568.80,211.46 568.90,211.38 569.01,211.69 569.12,211.28 569.23,211.51 569.33,211.44 569.44,211.69 569.55,211.32 569.65,211.37 569.76,211.72 569.87,211.62 569.97,211.50 570.08,211.43 570.19,211.67 570.29,211.70 570.40,211.80 570.51,211.54 570.62,211.49 570.72,211.64 570.83,211.72 570.94,211.65 571.04,211.67 571.15,211.65 571.26,211.99 571.36,211.63 571.47,211.45 571.58,211.67 571.69,211.43 571.79,211.79 571.90,211.58 572.01,211.56 572.11,211.51 572.22,211.66 572.33,211.68 572.43,211.62 572.54,211.34 572.65,211.83 572.75,211.85 572.86,211.60 572.97,211.34 573.08,211.70 573.18,211.73 573.29,211.63 573.40,212.00 573.50,211.82 573.61,211.85 573.72,211.70 573.82,211.90 573.93,211.85 574.04,211.67 574.14,211.57 574.25,211.93 574.36,211.68 574.47,211.80 574.57,211.63 574.68,211.70 574.79,211.87 574.89,211.89 575.00,211.97 575.11,211.81 575.21,211.84 575.32,211.93 575.43,211.86 575.53,211.96 575.64,211.70 575.75,211.95 575.86,211.62 575.96,211.84 576.07,211.78 576.18,211.84 576.28,211.70 576.39,211.55 576.50,211.82 576.60,211.85 576.71,211.76 576.82,211.54 576.92,211.89 577.03,211.76 577.14,211.68 577.25,211.89 577.35,211.97 577.46,211.98 577.57,211.79 577.67,211.72 577.78,211.70 577.89,211.74 577.99,211.99 578.10,212.16 578.21,211.99 578.31,212.02 578.42,211.82 578.53,211.59 578.64,211.75 578.74,212.01 578.85,211.77 578.96,212.08 579.06,211.95 579.17,211.83 579.28,212.09 579.38,212.28 579.49,211.80 579.60,212.02 579.71,211.99 579.81,211.87 579.92,211.87 580.03,212.14 580.13,212.01 580.24,212.01 580.35,211.96 580.45,212.07 580.56,211.92 580.67,211.56 580.77,212.01 580.88,211.95 580.99,212.12 581.10,212.17 581.20,211.91 581.31,212.13 581.42,211.82 581.52,211.62 581.63,212.14 581.74,211.81 581.84,212.04 581.95,211.75 582.06,211.89 582.16,212.08 582.27,211.93 582.38,211.87 582.49,211.88 582.59,212.10 582.70,211.91 582.81,211.61 582.91,211.94 583.02,212.00 583.13,212.17 583.23,212.03 583.34,212.08 583.45,211.94 583.55,211.96 583.66,211.97 583.77,212.16 583.88,211.97 583.98,211.98 584.09,212.32 584.20,211.88 584.30,211.98 584.41,212.19 584.52,211.67 584.62,212.19 584.73,212.12 584.84,211.96 584.94,211.97 585.05,212.03 585.16,212.00 585.27,212.08 585.37,212.23 585.48,212.19 585.59,212.24 585.69,211.98 585.80,211.85 585.91,212.05 586.01,211.98 586.12,212.13 586.23,212.28 586.33,212.12 586.44,211.93 586.55,212.26 586.66,212.08 586.76,212.19 586.87,211.98 586.98,212.15 587.08,212.24 587.19,212.13 587.30,212.08 587.40,211.99 587.51,212.23 587.62,211.96 587.73,212.26 587.83,212.19 587.94,212.45 588.05,212.26 588.15,212.00 588.26,212.02 588.37,212.39 588.47,212.24 588.58,212.15 588.69,212.02 588.79,211.84 588.90,212.02 589.01,212.08 589.12,212.26 589.22,212.21 589.33,212.25 589.44,212.11 589.54,212.10 589.65,212.39 589.76,212.23 589.86,212.02 589.97,212.32 590.08,211.87 590.18,211.98 590.29,211.96 590.40,212.18 590.51,212.09 590.61,212.11 590.72,212.09 590.83,211.95 590.93,211.98 591.04,212.23 591.15,212.00 591.25,212.16 591.36,212.06 591.47,212.06 591.57,212.35 591.68,212.05 591.79,212.01 591.90,212.16 592.00,212.15 592.11,212.17 592.22,212.43 592.32,212.15 592.43,212.35 592.54,212.16 592.64,212.04 592.75,212.19 592.86,212.14 592.96,211.99 593.07,211.83 593.18,212.32 593.29,212.06 593.39,212.12 593.50,212.57 593.61,212.23 593.71,212.28 593.82,212.34 593.93,212.14 594.03,212.01 594.14,212.25 594.25,212.03 594.35,212.01 594.46,212.33 594.57,212.04 594.68,212.14 594.78,211.81 594.89,212.10 595.00,212.09 595.10,212.25 595.21,211.92 595.32,212.02 595.42,212.05 595.53,212.22 595.64,211.97 595.75,212.20 595.85,212.35 595.96,212.38 596.07,212.57 596.17,212.32 596.28,212.33 596.39,212.20 596.49,212.03 596.60,212.19 596.71,212.23 596.81,212.14 596.92,212.38 597.03,212.22 597.14,212.10 597.24,212.25 597.35,212.49 597.46,212.05 597.56,212.12 597.67,212.26 597.78,212.32 597.88,212.20 597.99,212.17 598.10,212.32 598.20,212.65 598.31,212.33 598.42,212.10 598.53,212.36 598.63,212.25 598.74,212.34 598.85,212.33 598.95,212.35 599.06,212.30 599.17,212.35 599.27,212.41 599.38,212.38 599.49,212.51 599.59,212.23 599.70,212.40 599.81,212.42 599.92,212.27 600.02,212.26 600.13,212.15 600.24,212.41 600.34,212.31 600.45,212.27 600.56,212.42 600.66,212.05 600.77,212.48 600.88,212.39 600.98,212.24 601.09,212.37 601.20,212.13 601.31,212.30 601.41,212.39 601.52,212.41 601.63,212.04 601.73,212.33 601.84,212.12 601.95,212.25 602.05,211.86 602.16,212.32 602.27,212.34 602.37,212.33 602.48,211.97 602.59,212.19 602.70,212.30 602.80,212.40 602.91,212.08 603.02,212.06 603.12,212.21 603.23,212.44 603.34,212.66 603.44,212.41 603.55,212.38 603.66,212.43 603.77,212.64 603.87,212.19 603.98,212.09 604.09,212.37 604.19,211.84 604.30,212.26 604.41,212.13 604.51,212.09 604.62,211.87 604.73,212.44 604.83,212.33 604.94,212.21 605.05,211.86 605.16,212.42 605.26,212.34 605.37,212.12 605.48,212.59 605.58,212.30 605.69,212.32 605.80,212.19 605.90,211.88 606.01,212.39 606.12,212.16 606.22,212.17 606.33,211.97 606.44,212.24 606.55,212.09 606.65,212.32 606.76,212.34 606.87,212.37 606.97,212.15 607.08,212.27 607.19,212.47 607.29,212.40 607.40,212.18 607.51,212.22 607.61,212.08 607.72,212.31 607.83,212.27 607.94,212.40 608.04,212.08 608.15,212.46 608.26,212.28 608.36,212.16 608.47,212.11 608.58,212.43 608.68,212.37 608.79,212.13 608.90,212.15 609.00,212.12 609.11,212.12 609.22,212.29 609.33,211.92 609.43,212.18 609.54,212.34 609.65,212.32 609.75,212.65 609.86,212.31 609.97,212.09 610.07,212.43 610.18,212.21 610.29,212.43 610.39,212.44 610.50,212.22 610.61,212.50 610.72,212.46 610.82,212.41 610.93,212.22 611.04,212.20 611.14,212.47 611.25,212.38 611.36,212.09 611.46,212.52 611.57,212.25 611.68,212.31 611.79,212.17 611.89,212.19 612.00,212.16 612.11,212.27 612.21,212.40 612.32,212.56 612.43,212.45 612.53,212.15 612.64,212.44 612.75,212.70 612.85,212.10 612.96,212.40 613.07,212.13 613.18,212.65 613.28,212.30 613.39,212.39 613.50,212.15 613.60,212.18 613.71,212.23 613.82,212.18 613.92,212.14 614.03,212.42 614.14,212.24 614.24,212.31 614.35,212.44 614.46,211.99 614.57,212.25 614.67,212.16 614.78,212.40 614.89,212.25 614.99,212.30 615.10,212.20 615.21,212.46 615.31,212.42 615.42,212.29 615.53,212.46 615.63,212.27 615.74,212.08 615.85,212.32 615.96,212.23 616.06,212.25 616.17,212.54 616.28,212.35 616.38,212.09 616.49,212.36 616.60,212.35 616.70,212.46 616.81,212.40 616.92,212.42 617.02,211.91 617.13,212.20 617.24,212.14 617.35,212.10 617.45,212.19 617.56,212.12 617.67,212.28 617.77,212.32 617.88,211.90 617.99,212.13 618.09,212.11 618.20,212.30 618.31,212.05 618.41,212.33 618.52,212.10 618.63,212.13 618.74,212.48 618.84,212.12 618.95,212.42 619.06,212.46 619.16,212.10 619.27,212.38 619.38,212.29 619.48,212.24 619.59,212.70 619.70,212.20 619.81,212.39 619.91,212.32 620.02,212.43 620.13,212.20 620.23,212.20 620.34,212.38 620.45,212.64 620.55,212.38 620.66,212.33 620.77,212.47 620.87,212.60 620.98,212.19 621.09,212.22 621.20,212.11 621.30,211.88 621.41,212.15 621.52,212.35 621.62,212.43 621.73,212.46 621.84,212.31 621.94,212.29 622.05,212.28 622.16,212.42 622.26,212.16 622.37,212.39 622.48,212.31 622.59,211.96 622.69,212.18 622.80,212.38 622.91,212.40 623.01,212.03 623.12,212.50 623.23,212.45 623.33,212.29 623.44,212.27 623.55,212.43 623.65,212.48 623.76,212.42 623.87,212.07 623.98,212.32 624.08,212.11 624.19,212.19 624.30,211.88 624.40,212.49 624.51,212.43 624.62,212.50 624.72,212.36 624.83,212.37 624.94,212.48 625.04,212.28 625.15,212.66 625.26,212.38 625.37,212.40 625.47,212.18 625.58,212.38 625.69,212.40 625.79,212.49 625.90,212.33 626.01,212.19 626.11,212.23 626.22,212.14 626.33,212.18 626.43,212.53 626.54,212.45 626.65,212.20 626.76,212.19 626.86,212.30 626.97,212.17 627.08,212.28 627.18,212.39 627.29,212.60 627.40,212.50 627.50,212.25 627.61,212.15 627.72,211.95 627.83,212.32 627.93,212.24 628.04,212.14 628.15,212.03 628.25,212.27 628.36,212.34 628.47,212.30 628.57,212.59 628.68,212.43 628.79,212.23 628.89,212.11 629.00,212.27 629.11,212.34 629.22,212.37 629.32,212.33 629.43,212.04 629.54,212.33 629.64,212.12 629.75,212.44 629.86,212.47 629.96,212.30 630.07,212.34 630.18,212.17 630.28,212.02 630.39,212.14 630.50,212.26 630.61,212.49 630.71,212.24 630.82,212.29 630.93,212.31 631.03,212.40 631.14,212.13 631.25,212.14 631.35,212.47 631.46,212.24 631.57,212.42 631.67,212.30 631.78,212.15 631.89,212.13 632.00,212.18 632.10,212.43 632.21,212.14 632.32,212.44 632.42,212.41 632.53,212.18 632.64,212.38 632.74,212.40 632.85,211.92 632.96,212.13 633.06,212.38 633.17,212.35 633.28,212.50 633.39,212.46 633.49,212.41 633.60,212.12 633.71,212.68 633.81,212.42 633.92,212.43 634.03,212.48 634.13,212.29 634.24,212.21 634.35,212.18 634.45,212.26 634.56,212.03 634.67,212.51 634.78,212.40 634.88,212.13 634.99,212.69 635.10,212.40 635.20,212.32 635.31,212.40 635.42,212.27 635.52,212.49 635.63,212.42 635.74,212.13 635.85,212.62 635.95,212.15 636.06,212.44 636.17,212.12 636.27,212.16 636.38,212.25 636.49,212.45 636.59,212.49 636.70,212.08 636.81,212.44 636.91,212.44 637.02,212.18 637.13,211.98 637.24,212.49 637.34,212.13 637.45,212.30 637.56,212.42 637.66,212.47 637.77,212.36 637.88,212.12 637.98,212.50 638.09,212.46 638.20,212.45 638.30,212.46 638.41,212.44 638.52,212.15 638.63,212.48 638.73,212.44 638.84,211.93 638.95,212.12 639.05,212.12 639.16,212.41 639.27,212.44 639.37,212.13 639.48,212.32 639.59,212.23 639.69,212.48 639.80,212.50 639.91,212.37 640.02,212.21 640.12,212.07 640.23,212.29 640.34,212.33 640.44,212.30 640.55,212.36 640.66,212.30 640.76,212.18 640.87,212.43 640.98,212.23 641.08,212.14 641.19,212.18 641.30,212.44 641.41,211.91 641.51,212.18 641.62,212.45 641.73,212.41 641.83,212.57 641.94,212.49 642.05,212.12 642.15,212.35 642.26,211.99 642.37,212.47 642.47,212.51 642.58,212.17 642.69,212.06 642.80,212.12 642.90,212.24 643.01,212.30 643.12,212.08 643.22,212.48 643.33,212.30 643.44,212.34 643.54,212.62 643.65,212.27 643.76,212.39 643.87,212.31 643.97,212.43 644.08,212.39 644.19,212.37 644.29,212.27 644.40,211.89 644.51,212.14 644.61,212.17 644.72,212.18 644.83,212.50 644.93,212.13 645.04,212.41 645.15,212.46 645.26,212.31 645.36,212.22 645.47,212.38 645.58,212.26 645.68,212.51 645.79,212.13 645.90,212.33 646.00,212.32 646.11,212.29 646.22,212.17 646.32,212.12 646.43,212.30 646.54,212.37 646.65,212.27 646.75,212.49 646.86,212.35 646.97,212.01 647.07,212.21 647.18,212.49 647.29,212.17 647.39,212.42 647.50,212.12 647.61,212.37 647.71,212.43 647.82,212.27 647.93,212.16 648.04,212.34 648.14,212.17 648.25,212.13 648.36,212.37 648.46,212.40 648.57,212.31 648.68,212.40 648.78,212.37 648.89,212.26 649.00,212.17 649.10,212.24 649.21,212.46 649.32,212.43 649.43,212.37 649.53,212.22 649.64,212.46 649.75,212.48 649.85,212.39 649.96,212.51 650.07,212.50 650.17,212.30 650.28,212.15 650.39,212.29 650.49,212.22 650.60,212.19 650.71,212.18 650.82,211.95 650.92,212.34 651.03,212.24 651.14,212.47 651.24,211.98 651.35,212.36 651.46,212.33 651.56,212.16 651.67,212.50 651.78,212.44 651.89,212.19 651.99,212.28 652.10,212.68 652.21,212.50 652.31,212.38 652.42,212.51 652.53,212.03 652.63,212.44 652.74,212.41 652.85,212.36 652.95,212.31 653.06,212.34 653.17,212.27 653.28,212.25 653.38,212.37 653.49,212.48 653.60,212.13 653.70,212.24 653.81,212.68 653.92,212.34 654.02,212.22 654.13,212.12 654.24,212.70 654.34,212.51 654.45,212.32 654.56,212.35 654.67,211.97 654.77,212.19 654.88,212.38 654.99,212.35 655.09,212.24 655.20,212.16 655.31,212.44 655.41,212.36 655.52,212.68 655.63,212.26 655.73,212.51 655.84,212.14 655.95,212.30 656.06,212.29 656.16,212.48 656.27,212.42 656.38,212.34 656.48,212.18 656.59,212.30 656.70,212.40 656.80,211.90 656.91,212.25 657.02,212.31 657.12,212.44 657.23,212.49 657.34,212.16 657.45,212.46 657.55,212.30 657.66,212.21 657.77,212.38 657.87,212.21 657.98,212.15 658.09,212.00 658.19,212.22 658.30,212.44 658.41,212.49 658.51,212.38 658.62,212.39 658.73,212.44 658.84,212.17 658.94,212.57 659.05,212.19 659.16,212.14 659.26,212.47 659.37,211.96 659.48,212.36 659.58,212.43 659.69,212.44 659.80,212.72 659.91,212.32 660.01,212.36 660.12,212.18 660.23,212.03 660.33,212.49 660.44,212.36 660.55,212.36 660.65,212.60 660.76,212.42 660.87,212.41 660.97,212.24 661.08,212.46 661.19,212.47 661.30,212.43 661.40,212.34 661.51,212.26 661.62,212.42 661.72,212.24 661.83,212.43 661.94,212.17 662.04,212.27 662.15,212.45 662.26,212.22 662.36,212.41 662.47,212.30 662.58,212.28 662.69,212.27 662.79,212.37 662.90,212.49 663.01,212.20 663.11,212.17 663.22,212.33 663.33,212.29 663.43,212.41 663.54,212.16 663.65,212.16 663.75,212.43 663.86,212.19 663.97,212.12 664.08,212.45 664.18,212.12 664.29,212.32 664.40,212.45 664.50,212.13 664.61,212.38 664.72,212.23 664.82,212.28 664.93,212.66 665.04,212.31 665.14,212.18 665.25,212.33 665.36,212.28 665.47,212.17 665.57,212.34 665.68,212.32 665.79,212.25 665.89,212.19 666.00,212.44 666.11,212.48 666.21,212.09 666.32,212.30 666.43,212.40 666.53,212.16 666.64,211.98 666.75,212.30 666.86,212.12 666.96,212.18 667.07,212.10 667.18,212.40 667.28,212.51 667.39,212.25 667.50,212.11 667.60,212.38 667.71,212.33 667.82,212.29 667.93,212.54 668.03,212.24 668.14,212.29 668.25,212.36 668.35,212.66 668.46,212.30 668.57,212.39 668.67,212.23 668.78,212.60 668.89,212.36 668.99,212.44 669.10,212.35 669.21,212.25 669.32,212.47 669.42,212.50 669.53,212.33 669.64,212.58 669.74,212.32 669.85,212.45 669.96,212.48 670.06,212.29 670.17,212.15 670.28,212.17 670.38,212.31 670.49,212.41 670.60,212.49 670.71,212.41 670.81,212.39 670.92,211.93 671.03,212.47 671.13,212.14 671.24,212.33 671.35,212.38 671.45,212.41 671.56,212.13 671.67,212.44 671.77,212.26 671.88,212.31 671.99,212.44 672.10,212.43 672.20,211.89 672.31,212.20 672.42,212.23 672.52,212.16 672.63,212.67 672.74,212.24 672.84,212.22 672.95,212.43 673.06,212.36 673.16,212.13 673.27,212.39 673.38,212.21 673.49,212.61 673.59,212.25 673.70,212.41 673.81,212.31 673.91,212.43 674.02,212.17 674.13,212.22 674.23,212.32 674.34,212.15 674.45,212.35 674.55,212.20 674.66,212.41 674.77,212.28 674.88,212.28 674.98,212.36 675.09,212.50 675.20,212.61 675.30,212.26 675.41,212.43 675.52,212.22 675.62,212.31 675.73,212.14 675.84,212.18 675.95,212.23 676.05,212.43 676.16,212.50 676.27,212.30 676.37,212.22 676.48,211.95 676.59,212.44 676.69,212.45 676.80,212.13 676.91,212.11 677.01,212.32 677.12,212.22 677.23,212.46 677.34,212.28 677.44,212.25 677.55,212.28 677.66,212.45 677.76,212.64 677.87,212.27 677.98,212.17 678.08,212.46 678.19,212.75 678.30,212.48 678.40,212.21 678.51,212.36 678.62,212.36 678.73,212.12 678.83,212.27 678.94,212.41 679.05,212.14 679.15,212.52 679.26,212.41 679.37,212.24 679.47,212.61 679.58,212.50 679.69,212.31 679.79,212.39 679.90,211.91 680.01,212.48 680.12,212.20 680.22,212.36 680.33,212.05 680.44,212.34 680.54,212.25 680.65,212.39 680.76,212.56 680.86,212.34 680.97,212.20 681.08,212.38 681.18,212.56 681.29,212.35 681.40,212.48 681.51,212.39 681.61,212.25 681.72,212.30 681.83,212.28 681.93,212.40 682.04,212.73 682.15,212.51 682.25,212.38 682.36,212.44 682.47,212.26 682.57,212.41 682.68,212.21 682.79,212.28 682.90,212.18 683.00,212.22 683.11,212.31 683.22,212.35 683.32,212.49 683.43,212.49 683.54,212.20 683.64,212.32 683.75,212.67 683.86,212.15 683.97,212.29 684.07,212.27 684.18,212.37 684.29,212.47 684.39,212.12 684.50,212.45 684.61,212.44 684.71,212.12 684.82,212.47 684.93,212.32 685.03,212.34 685.14,212.42 685.25,212.15 685.36,212.35 685.46,212.75 685.57,212.33 685.68,212.52 685.78,212.24 685.89,212.00 686.00,212.16 686.10,212.50 686.21,212.25 686.32,212.49 686.42,212.33 686.53,212.40 686.64,212.40 686.75,212.64 686.85,212.27 686.96,212.48 687.07,212.13 687.17,212.72 687.28,212.13 687.39,212.44 687.49,212.48 687.60,212.10 687.71,212.31 687.81,212.21 687.92,212.32 688.03,212.20 688.14,212.48 688.24,212.25 688.35,212.31 688.46,211.91 688.56,212.52 688.67,212.49 688.78,212.25 688.88,211.95 688.99,212.35 689.10,212.23 689.20,212.29 689.31,212.41 689.42,212.33 689.53,212.28 689.63,212.51 689.74,212.49 689.85,212.22 689.95,212.41 690.06,212.33 690.17,212.53 690.27,212.38 690.38,212.26 690.49,212.22 690.59,211.92 690.70,212.33 690.81,212.44 690.92,212.38 691.02,212.71 691.13,212.42 691.24,212.29 691.34,212.27 691.45,212.55 691.56,212.45 691.66,212.48 691.77,212.45 691.88,212.32 691.99,212.42 692.09,212.17 692.20,212.29 692.31,212.46 692.41,212.35 692.52,212.50 692.63,212.23 692.73,212.10 692.84,212.37 692.95,212.23 693.05,212.41 693.16,212.56 693.27,212.43 693.38,212.44 693.48,212.28 693.59,212.19 693.70,212.23 693.80,212.48 693.91,212.21 694.02,212.34 694.12,212.37 694.23,212.32 694.34,212.35 694.44,212.58 694.55,212.36 694.66,212.26 694.77,212.23 694.87,211.96 694.98,212.44 695.09,212.16 695.19,212.20 695.30,212.13" fill="none" stroke="#1b4468" stroke-width="1.6"/>
<circle cx="535.30" cy="265.00" r="2.35" fill="url(#sph)"/>
<circle cx="540.90" cy="238.50" r="2.35" fill="url(#sph)"/>
<circle cx="546.23" cy="243.00" r="2.35" fill="url(#sph)"/>
<circle cx="551.56" cy="246.80" r="2.35" fill="url(#sph)"/>
<circle cx="556.89" cy="249.70" r="2.35" fill="url(#sph)"/>
<circle cx="562.22" cy="251.80" r="2.35" fill="url(#sph)"/>
<circle cx="567.55" cy="251.80" r="2.35" fill="url(#sph)"/>
<circle cx="572.88" cy="252.40" r="2.35" fill="url(#sph)"/>
<circle cx="578.21" cy="253.30" r="2.35" fill="url(#sph)"/>
<circle cx="583.54" cy="253.90" r="2.35" fill="url(#sph)"/>
<circle cx="588.87" cy="255.60" r="2.35" fill="url(#sph)"/>
<circle cx="594.20" cy="256.80" r="2.35" fill="url(#sph)"/>
<circle cx="599.53" cy="258.20" r="2.35" fill="url(#sph)"/>
<circle cx="604.86" cy="259.30" r="2.35" fill="url(#sph)"/>
<circle cx="610.19" cy="259.70" r="2.35" fill="url(#sph)"/>
<circle cx="615.52" cy="260.70" r="2.35" fill="url(#sph)"/>
<circle cx="620.85" cy="261.90" r="2.35" fill="url(#sph)"/>
<circle cx="626.18" cy="262.20" r="2.35" fill="url(#sph)"/>
<circle cx="631.51" cy="262.90" r="2.35" fill="url(#sph)"/>
<circle cx="636.84" cy="264.00" r="2.35" fill="url(#sph)"/>
<circle cx="642.17" cy="265.00" r="2.35" fill="url(#sph)"/>
<circle cx="647.50" cy="265.70" r="2.35" fill="url(#sph)"/>
<circle cx="652.83" cy="265.70" r="2.35" fill="url(#sph)"/>
<circle cx="658.16" cy="267.90" r="2.35" fill="url(#sph)"/>
<circle cx="663.49" cy="268.60" r="2.35" fill="url(#sph)"/>
<circle cx="668.82" cy="270.00" r="2.35" fill="url(#sph)"/>
<circle cx="674.15" cy="271.00" r="2.35" fill="url(#sph)"/>
<circle cx="679.48" cy="272.20" r="2.35" fill="url(#sph)"/>
<circle cx="684.81" cy="272.60" r="2.35" fill="url(#sph)"/>
<circle cx="690.14" cy="274.00" r="2.35" fill="url(#sph)"/>
<rect x="534.90" y="160.40" width="160.40" height="129.30" fill="none" stroke="#3a3a3a" stroke-width="1.1"/>
<line x1="531.70" y1="160.40" x2="534.90" y2="160.40" stroke="#3a3a3a" stroke-width="1" />
<text x="530.5" y="163.5" font-size="8.5" text-anchor="end" font-weight="bold" fill="#1a1a1a" >0</text>
<line x1="531.70" y1="190.24" x2="534.90" y2="190.24" stroke="#3a3a3a" stroke-width="1" />
<text x="530.5" y="193.3" font-size="8.5" text-anchor="end" font-weight="bold" fill="#1a1a1a" >-15</text>
<line x1="531.70" y1="220.08" x2="534.90" y2="220.08" stroke="#3a3a3a" stroke-width="1" />
<text x="530.5" y="223.1" font-size="8.5" text-anchor="end" font-weight="bold" fill="#1a1a1a" >-30</text>
<line x1="531.70" y1="249.92" x2="534.90" y2="249.92" stroke="#3a3a3a" stroke-width="1" />
<text x="530.5" y="253.0" font-size="8.5" text-anchor="end" font-weight="bold" fill="#1a1a1a" >-45</text>
<line x1="531.70" y1="279.75" x2="534.90" y2="279.75" stroke="#3a3a3a" stroke-width="1" />
<text x="530.5" y="282.8" font-size="8.5" text-anchor="end" font-weight="bold" fill="#1a1a1a" >-60</text>
<line x1="533.30" y1="175.32" x2="534.90" y2="175.32" stroke="#3a3a3a" stroke-width="1" />
<line x1="533.30" y1="205.16" x2="534.90" y2="205.16" stroke="#3a3a3a" stroke-width="1" />
<line x1="533.30" y1="235.00" x2="534.90" y2="235.00" stroke="#3a3a3a" stroke-width="1" />
<line x1="533.30" y1="264.83" x2="534.90" y2="264.83" stroke="#3a3a3a" stroke-width="1" />
<line x1="695.30" y1="160.40" x2="698.50" y2="160.40" stroke="#3a3a3a" stroke-width="1" />
<text x="698.9" y="163.5" font-size="8.5" text-anchor="start" font-weight="bold" fill="#1a1a1a" >100</text>
<line x1="695.30" y1="189.13" x2="698.50" y2="189.13" stroke="#3a3a3a" stroke-width="1" />
<text x="698.9" y="192.2" font-size="8.5" text-anchor="start" font-weight="bold" fill="#1a1a1a" >80</text>
<line x1="695.30" y1="217.87" x2="698.50" y2="217.87" stroke="#3a3a3a" stroke-width="1" />
<text x="698.9" y="220.9" font-size="8.5" text-anchor="start" font-weight="bold" fill="#1a1a1a" >60</text>
<line x1="695.30" y1="246.60" x2="698.50" y2="246.60" stroke="#3a3a3a" stroke-width="1" />
<text x="698.9" y="249.7" font-size="8.5" text-anchor="start" font-weight="bold" fill="#1a1a1a" >40</text>
<line x1="695.30" y1="275.33" x2="698.50" y2="275.33" stroke="#3a3a3a" stroke-width="1" />
<text x="698.9" y="278.4" font-size="8.5" text-anchor="start" font-weight="bold" fill="#1a1a1a" >20</text>
<line x1="695.30" y1="174.77" x2="696.90" y2="174.77" stroke="#3a3a3a" stroke-width="1" />
<line x1="695.30" y1="203.50" x2="696.90" y2="203.50" stroke="#3a3a3a" stroke-width="1" />
<line x1="695.30" y1="232.23" x2="696.90" y2="232.23" stroke="#3a3a3a" stroke-width="1" />
<line x1="695.30" y1="260.97" x2="696.90" y2="260.97" stroke="#3a3a3a" stroke-width="1" />
<line x1="534.90" y1="289.70" x2="534.90" y2="292.90" stroke="#3a3a3a" stroke-width="1" />
<text x="534.9" y="300.6" font-size="8.5" text-anchor="middle" font-weight="bold" fill="#1a1a1a" >0</text>
<line x1="566.98" y1="289.70" x2="566.98" y2="292.90" stroke="#3a3a3a" stroke-width="1" />
<text x="567.0" y="300.6" font-size="8.5" text-anchor="middle" font-weight="bold" fill="#1a1a1a" >3</text>
<line x1="599.06" y1="289.70" x2="599.06" y2="292.90" stroke="#3a3a3a" stroke-width="1" />
<text x="599.1" y="300.6" font-size="8.5" text-anchor="middle" font-weight="bold" fill="#1a1a1a" >6</text>
<line x1="631.14" y1="289.70" x2="631.14" y2="292.90" stroke="#3a3a3a" stroke-width="1" />
<text x="631.1" y="300.6" font-size="8.5" text-anchor="middle" font-weight="bold" fill="#1a1a1a" >9</text>
<line x1="663.22" y1="289.70" x2="663.22" y2="292.90" stroke="#3a3a3a" stroke-width="1" />
<text x="663.2" y="300.6" font-size="8.5" text-anchor="middle" font-weight="bold" fill="#1a1a1a" >12</text>
<line x1="695.30" y1="289.70" x2="695.30" y2="292.90" stroke="#3a3a3a" stroke-width="1" />
<text x="695.3" y="300.6" font-size="8.5" text-anchor="middle" font-weight="bold" fill="#1a1a1a" >15</text>
<line x1="550.94" y1="289.70" x2="550.94" y2="291.30" stroke="#3a3a3a" stroke-width="1" />
<line x1="583.02" y1="289.70" x2="583.02" y2="291.30" stroke="#3a3a3a" stroke-width="1" />
<line x1="615.10" y1="289.70" x2="615.10" y2="291.30" stroke="#3a3a3a" stroke-width="1" />
<line x1="647.18" y1="289.70" x2="647.18" y2="291.30" stroke="#3a3a3a" stroke-width="1" />
<line x1="679.26" y1="289.70" x2="679.26" y2="291.30" stroke="#3a3a3a" stroke-width="1" />
<path d="M665.1,265.0 L665.1,251.4 L686.4,251.4" fill="none" stroke="#c9a0a6" stroke-width="1"/>
<line x1="665.10" y1="251.40" x2="686.40" y2="251.40" stroke="#e58a8e" stroke-width="1.1" />
<path d="M684.9,249.2 L689.4,251.4 L684.9,253.6 Z" fill="#e58a8e"/>
<text x="697.2" y="152.4" font-size="9.2" text-anchor="end" font-weight="bold" fill="#1a1a1a" >Potentiostatic</text>
<text x="640.2" y="178.0" font-size="8.6" text-anchor="middle" font-weight="bold" fill="#1a1a1a" >@ -1.28 V vs. RHE</text>
<text x="615.1" y="313.7" font-size="11.0" text-anchor="middle" font-weight="bold" fill="#1a1a1a" >Time (h)</text>
<text transform="translate(512.5,222.0) rotate(-90)" text-anchor="middle" font-size="10.2" letter-spacing="0.45" font-weight="bold" fill="#1a1a1a"><tspan font-style="italic" font-size="12">j</tspan><tspan font-size="6.8" dy="2.8" letter-spacing="0.2" font-style="normal">total</tspan><tspan dy="-2.8"> (mA·cm</tspan><tspan font-size="6.8" dy="-4">-2</tspan><tspan dy="4">)</tspan></text>
<text transform="translate(723.3,225.5) rotate(-90)" text-anchor="middle" font-size="10.6" letter-spacing="0.1" font-weight="bold" fill="#1a1a1a">FE(C<tspan font-size="6.8" dy="3.0">2</tspan><tspan dy="-3.0">H</tspan><tspan font-size="6.8" dy="3.0">4</tspan><tspan dy="-3.0">) (%)</tspan></text>
<rect x="61.30" y="464.73" width="12.60" height="6.27" fill="#cde0f4" />
<rect x="61.30" y="458.98" width="12.60" height="5.75" fill="#79bbdf" />
<rect x="61.30" y="447.91" width="12.60" height="11.07" fill="#b5c1de" />
<rect x="61.30" y="382.30" width="12.60" height="65.61" fill="#f9d2b3" />
<rect x="61.30" y="365.27" width="12.60" height="17.03" fill="#f7b9bc" />
<rect x="93.70" y="463.90" width="12.60" height="7.10" fill="#cde0f4" />
<rect x="93.70" y="461.81" width="12.60" height="2.09" fill="#79bbdf" />
<rect x="93.70" y="453.34" width="12.60" height="8.46" fill="#b5c1de" />
<rect x="93.70" y="378.01" width="12.60" height="75.33" fill="#f9d2b3" />
<rect x="93.70" y="363.70" width="12.60" height="14.31" fill="#f7b9bc" />
<rect x="126.30" y="462.12" width="12.60" height="8.88" fill="#cde0f4" />
<rect x="126.30" y="460.03" width="12.60" height="2.09" fill="#79bbdf" />
<rect x="126.30" y="457.73" width="12.60" height="2.30" fill="#b5c1de" />
<rect x="126.30" y="373.62" width="12.60" height="84.11" fill="#f9d2b3" />
<rect x="126.30" y="363.18" width="12.60" height="10.45" fill="#f7b9bc" />
<rect x="158.50" y="455.33" width="12.60" height="15.67" fill="#cde0f4" />
<rect x="158.50" y="454.07" width="12.60" height="1.25" fill="#b5c1de" />
<rect x="158.50" y="375.30" width="12.60" height="78.78" fill="#f9d2b3" />
<rect x="158.50" y="367.04" width="12.60" height="8.25" fill="#f7b9bc" />
<rect x="190.80" y="451.15" width="12.60" height="19.85" fill="#cde0f4" />
<rect x="190.80" y="449.48" width="12.60" height="1.67" fill="#b5c1de" />
<rect x="190.80" y="374.15" width="12.60" height="75.33" fill="#f9d2b3" />
<rect x="190.80" y="370.59" width="12.60" height="3.55" fill="#f7b9bc" />
<rect x="61.20" y="342.70" width="13.80" height="6.50" fill="#f7b9bc" />
<text x="78.0" y="348.9" font-size="8.4" font-weight="bold" fill="#1a1a1a">C<tspan font-size="5.5" dy="2.6">2</tspan><tspan dy="-2.6">H</tspan><tspan font-size="5.5" dy="2.6">4</tspan></text>
<rect x="98.60" y="342.70" width="13.80" height="6.50" fill="#f9d2b3" />
<text x="115.8" y="348.9" font-size="8.4" font-weight="bold" fill="#1a1a1a">CH<tspan font-size="5.5" dy="2.6">4</tspan></text>
<rect x="133.30" y="342.70" width="13.80" height="6.50" fill="#b5c1de" />
<text x="150.5" y="348.9" font-size="8.4" text-anchor="start" font-weight="bold" fill="#1a1a1a" >HCOOH</text>
<rect x="61.20" y="356.00" width="13.80" height="6.50" fill="#79bbdf" />
<text x="78.0" y="362.2" font-size="8.4" text-anchor="start" font-weight="bold" fill="#1a1a1a" >CO</text>
<rect x="98.60" y="356.00" width="13.80" height="6.50" fill="#cde0f4" />
<text x="115.8" y="362.2" font-size="8.4" font-weight="bold" fill="#1a1a1a">H<tspan font-size="5.5" dy="2.6">2</tspan></text>
<rect x="51.60" y="340.40" width="161.60" height="130.60" fill="none" stroke="#3a3a3a" stroke-width="1.1"/>
<line x1="48.40" y1="340.40" x2="51.60" y2="340.40" stroke="#3a3a3a" stroke-width="1" />
<text x="47.2" y="343.5" font-size="8.5" text-anchor="end" font-weight="bold" fill="#1a1a1a" >125</text>
<line x1="48.40" y1="366.52" x2="51.60" y2="366.52" stroke="#3a3a3a" stroke-width="1" />
<text x="47.2" y="369.6" font-size="8.5" text-anchor="end" font-weight="bold" fill="#1a1a1a" >100</text>
<line x1="48.40" y1="392.64" x2="51.60" y2="392.64" stroke="#3a3a3a" stroke-width="1" />
<text x="47.2" y="395.7" font-size="8.5" text-anchor="end" font-weight="bold" fill="#1a1a1a" >75</text>
<line x1="48.40" y1="418.76" x2="51.60" y2="418.76" stroke="#3a3a3a" stroke-width="1" />
<text x="47.2" y="421.8" font-size="8.5" text-anchor="end" font-weight="bold" fill="#1a1a1a" >50</text>
<line x1="48.40" y1="444.88" x2="51.60" y2="444.88" stroke="#3a3a3a" stroke-width="1" />
<text x="47.2" y="447.9" font-size="8.5" text-anchor="end" font-weight="bold" fill="#1a1a1a" >25</text>
<line x1="48.40" y1="471.00" x2="51.60" y2="471.00" stroke="#3a3a3a" stroke-width="1" />
<text x="47.2" y="474.1" font-size="8.5" text-anchor="end" font-weight="bold" fill="#1a1a1a" >0</text>
<line x1="50.00" y1="353.46" x2="51.60" y2="353.46" stroke="#3a3a3a" stroke-width="1" />
<line x1="50.00" y1="379.58" x2="51.60" y2="379.58" stroke="#3a3a3a" stroke-width="1" />
<line x1="50.00" y1="405.70" x2="51.60" y2="405.70" stroke="#3a3a3a" stroke-width="1" />
<line x1="50.00" y1="431.82" x2="51.60" y2="431.82" stroke="#3a3a3a" stroke-width="1" />
<line x1="50.00" y1="457.94" x2="51.60" y2="457.94" stroke="#3a3a3a" stroke-width="1" />
<line x1="73.90" y1="471.00" x2="73.90" y2="474.20" stroke="#3a3a3a" stroke-width="1" />
<text x="73.9" y="482.1" font-size="8.5" text-anchor="middle" font-weight="bold" fill="#1a1a1a" >-1.1</text>
<line x1="106.30" y1="471.00" x2="106.30" y2="474.20" stroke="#3a3a3a" stroke-width="1" />
<text x="106.3" y="482.1" font-size="8.5" text-anchor="middle" font-weight="bold" fill="#1a1a1a" >-1.2</text>
<line x1="138.90" y1="471.00" x2="138.90" y2="474.20" stroke="#3a3a3a" stroke-width="1" />
<text x="138.9" y="482.1" font-size="8.5" text-anchor="middle" font-weight="bold" fill="#1a1a1a" >-1.3</text>
<line x1="171.10" y1="471.00" x2="171.10" y2="474.20" stroke="#3a3a3a" stroke-width="1" />
<text x="171.1" y="482.1" font-size="8.5" text-anchor="middle" font-weight="bold" fill="#1a1a1a" >-1.4</text>
<line x1="203.40" y1="471.00" x2="203.40" y2="474.20" stroke="#3a3a3a" stroke-width="1" />
<text x="203.4" y="482.1" font-size="8.5" text-anchor="middle" font-weight="bold" fill="#1a1a1a" >-1.5</text>
<line x1="57.70" y1="471.00" x2="57.70" y2="472.60" stroke="#3a3a3a" stroke-width="1" />
<line x1="90.10" y1="471.00" x2="90.10" y2="472.60" stroke="#3a3a3a" stroke-width="1" />
<line x1="122.70" y1="471.00" x2="122.70" y2="472.60" stroke="#3a3a3a" stroke-width="1" />
<line x1="154.90" y1="471.00" x2="154.90" y2="472.60" stroke="#3a3a3a" stroke-width="1" />
<line x1="187.20" y1="471.00" x2="187.20" y2="472.60" stroke="#3a3a3a" stroke-width="1" />
<text x="211.4" y="334.2" font-size="9.2" text-anchor="end" font-weight="bold" fill="#1a1a1a" >ALPS-1</text>
<text x="132.0" y="496.3" font-size="11.0" text-anchor="middle" font-weight="bold" fill="#1a1a1a" >Potential (V vs. RHE)</text>
<text transform="translate(29.1,405.7) rotate(-90)" text-anchor="middle" font-size="11" font-weight="bold" fill="#1a1a1a">FE (%)</text>
<rect x="305.50" y="453.32" width="12.60" height="19.28" fill="#cde0f4" />
<rect x="305.50" y="437.49" width="12.60" height="15.82" fill="#79bbdf" />
<rect x="305.50" y="431.41" width="12.60" height="6.08" fill="#b5c1de" />
<rect x="305.50" y="429.00" width="12.60" height="2.41" fill="#f9d2b3" />
<rect x="305.50" y="368.85" width="12.60" height="60.16" fill="#f7b9bc" />
<rect x="338.00" y="455.10" width="12.60" height="17.50" fill="#cde0f4" />
<rect x="338.00" y="447.45" width="12.60" height="7.65" fill="#79bbdf" />
<rect x="338.00" y="444.72" width="12.60" height="2.72" fill="#b5c1de" />
<rect x="338.00" y="440.43" width="12.60" height="4.30" fill="#f9d2b3" />
<rect x="338.00" y="365.91" width="12.60" height="74.51" fill="#f7b9bc" />
<rect x="370.60" y="452.06" width="12.60" height="20.54" fill="#cde0f4" />
<rect x="370.60" y="447.76" width="12.60" height="4.30" fill="#79bbdf" />
<rect x="370.60" y="444.72" width="12.60" height="3.04" fill="#b5c1de" />
<rect x="370.60" y="436.86" width="12.60" height="7.86" fill="#f9d2b3" />
<rect x="370.60" y="367.07" width="12.60" height="69.80" fill="#f7b9bc" />
<rect x="403.10" y="446.82" width="12.60" height="25.78" fill="#cde0f4" />
<rect x="403.10" y="444.72" width="12.60" height="2.10" fill="#79bbdf" />
<rect x="403.10" y="442.84" width="12.60" height="1.89" fill="#b5c1de" />
<rect x="403.10" y="432.67" width="12.60" height="10.17" fill="#f9d2b3" />
<rect x="403.10" y="365.91" width="12.60" height="66.76" fill="#f7b9bc" />
<rect x="435.40" y="438.96" width="12.60" height="33.64" fill="#cde0f4" />
<rect x="435.40" y="436.86" width="12.60" height="2.10" fill="#b5c1de" />
<rect x="435.40" y="423.97" width="12.60" height="12.89" fill="#f9d2b3" />
<rect x="435.40" y="365.91" width="12.60" height="58.06" fill="#f7b9bc" />
<rect x="305.00" y="343.90" width="13.80" height="6.50" fill="#f7b9bc" />
<text x="321.8" y="350.1" font-size="8.4" font-weight="bold" fill="#1a1a1a">C<tspan font-size="5.5" dy="2.6">2</tspan><tspan dy="-2.6">H</tspan><tspan font-size="5.5" dy="2.6">4</tspan></text>
<rect x="342.40" y="343.90" width="13.80" height="6.50" fill="#f9d2b3" />
<text x="359.6" y="350.1" font-size="8.4" font-weight="bold" fill="#1a1a1a">CH<tspan font-size="5.5" dy="2.6">4</tspan></text>
<rect x="377.10" y="343.90" width="13.80" height="6.50" fill="#b5c1de" />
<text x="394.3" y="350.1" font-size="8.4" text-anchor="start" font-weight="bold" fill="#1a1a1a" >HCOOH</text>
<rect x="305.00" y="357.20" width="13.80" height="6.50" fill="#79bbdf" />
<text x="321.8" y="363.4" font-size="8.4" text-anchor="start" font-weight="bold" fill="#1a1a1a" >CO</text>
<rect x="342.40" y="357.20" width="13.80" height="6.50" fill="#cde0f4" />
<text x="359.6" y="363.4" font-size="8.4" font-weight="bold" fill="#1a1a1a">H<tspan font-size="5.5" dy="2.6">2</tspan></text>
<rect x="295.50" y="341.60" width="162.50" height="131.00" fill="none" stroke="#3a3a3a" stroke-width="1.1"/>
<line x1="292.30" y1="341.60" x2="295.50" y2="341.60" stroke="#3a3a3a" stroke-width="1" />
<text x="291.1" y="344.7" font-size="8.5" text-anchor="end" font-weight="bold" fill="#1a1a1a" >125</text>
<line x1="292.30" y1="367.80" x2="295.50" y2="367.80" stroke="#3a3a3a" stroke-width="1" />
<text x="291.1" y="370.9" font-size="8.5" text-anchor="end" font-weight="bold" fill="#1a1a1a" >100</text>
<line x1="292.30" y1="394.00" x2="295.50" y2="394.00" stroke="#3a3a3a" stroke-width="1" />
<text x="291.1" y="397.1" font-size="8.5" text-anchor="end" font-weight="bold" fill="#1a1a1a" >75</text>
<line x1="292.30" y1="420.20" x2="295.50" y2="420.20" stroke="#3a3a3a" stroke-width="1" />
<text x="291.1" y="423.3" font-size="8.5" text-anchor="end" font-weight="bold" fill="#1a1a1a" >50</text>
<line x1="292.30" y1="446.40" x2="295.50" y2="446.40" stroke="#3a3a3a" stroke-width="1" />
<text x="291.1" y="449.5" font-size="8.5" text-anchor="end" font-weight="bold" fill="#1a1a1a" >25</text>
<line x1="292.30" y1="472.60" x2="295.50" y2="472.60" stroke="#3a3a3a" stroke-width="1" />
<text x="291.1" y="475.7" font-size="8.5" text-anchor="end" font-weight="bold" fill="#1a1a1a" >0</text>
<line x1="293.90" y1="354.70" x2="295.50" y2="354.70" stroke="#3a3a3a" stroke-width="1" />
<line x1="293.90" y1="380.90" x2="295.50" y2="380.90" stroke="#3a3a3a" stroke-width="1" />
<line x1="293.90" y1="407.10" x2="295.50" y2="407.10" stroke="#3a3a3a" stroke-width="1" />
<line x1="293.90" y1="433.30" x2="295.50" y2="433.30" stroke="#3a3a3a" stroke-width="1" />
<line x1="293.90" y1="459.50" x2="295.50" y2="459.50" stroke="#3a3a3a" stroke-width="1" />
<line x1="318.10" y1="472.60" x2="318.10" y2="475.80" stroke="#3a3a3a" stroke-width="1" />
<text x="318.1" y="483.7" font-size="8.5" text-anchor="middle" font-weight="bold" fill="#1a1a1a" >-1.0</text>
<line x1="350.60" y1="472.60" x2="350.60" y2="475.80" stroke="#3a3a3a" stroke-width="1" />
<text x="350.6" y="483.7" font-size="8.5" text-anchor="middle" font-weight="bold" fill="#1a1a1a" >-1.1</text>
<line x1="383.20" y1="472.60" x2="383.20" y2="475.80" stroke="#3a3a3a" stroke-width="1" />
<text x="383.2" y="483.7" font-size="8.5" text-anchor="middle" font-weight="bold" fill="#1a1a1a" >-1.2</text>
<line x1="415.70" y1="472.60" x2="415.70" y2="475.80" stroke="#3a3a3a" stroke-width="1" />
<text x="415.7" y="483.7" font-size="8.5" text-anchor="middle" font-weight="bold" fill="#1a1a1a" >-1.3</text>
<line x1="448.00" y1="472.60" x2="448.00" y2="475.80" stroke="#3a3a3a" stroke-width="1" />
<text x="448.0" y="483.7" font-size="8.5" text-anchor="middle" font-weight="bold" fill="#1a1a1a" >-1.4</text>
<line x1="301.90" y1="472.60" x2="301.90" y2="474.20" stroke="#3a3a3a" stroke-width="1" />
<line x1="334.40" y1="472.60" x2="334.40" y2="474.20" stroke="#3a3a3a" stroke-width="1" />
<line x1="367.00" y1="472.60" x2="367.00" y2="474.20" stroke="#3a3a3a" stroke-width="1" />
<line x1="399.50" y1="472.60" x2="399.50" y2="474.20" stroke="#3a3a3a" stroke-width="1" />
<line x1="431.80" y1="472.60" x2="431.80" y2="474.20" stroke="#3a3a3a" stroke-width="1" />
<text x="456.2" y="335.4" font-size="9.2" text-anchor="end" font-weight="bold" fill="#1a1a1a" >ALPS-2</text>
<text x="375.5" y="496.3" font-size="11.0" text-anchor="middle" font-weight="bold" fill="#1a1a1a" >Potential (V vs. RHE)</text>
<text transform="translate(273.0,407.1) rotate(-90)" text-anchor="middle" font-size="11" font-weight="bold" fill="#1a1a1a">FE (%)</text>
<rect x="550.00" y="412.10" width="12.60" height="60.30" fill="#cde0f4" />
<rect x="550.00" y="382.89" width="12.60" height="29.21" fill="#79bbdf" />
<rect x="550.00" y="370.17" width="12.60" height="12.73" fill="#b5c1de" />
<rect x="550.00" y="362.13" width="12.60" height="8.03" fill="#f7b9bc" />
<rect x="582.40" y="409.29" width="12.60" height="63.11" fill="#cde0f4" />
<rect x="582.40" y="395.72" width="12.60" height="13.56" fill="#79bbdf" />
<rect x="582.40" y="384.35" width="12.60" height="11.37" fill="#b5c1de" />
<rect x="582.40" y="365.99" width="12.60" height="18.36" fill="#f7b9bc" />
<rect x="614.80" y="405.64" width="12.60" height="66.76" fill="#cde0f4" />
<rect x="614.80" y="398.44" width="12.60" height="7.20" fill="#79bbdf" />
<rect x="614.80" y="390.93" width="12.60" height="7.51" fill="#b5c1de" />
<rect x="614.80" y="388.63" width="12.60" height="2.30" fill="#f9d2b3" />
<rect x="614.80" y="366.72" width="12.60" height="21.91" fill="#f7b9bc" />
<rect x="647.20" y="407.62" width="12.60" height="64.78" fill="#cde0f4" />
<rect x="647.20" y="404.70" width="12.60" height="2.92" fill="#79bbdf" />
<rect x="647.20" y="401.98" width="12.60" height="2.71" fill="#b5c1de" />
<rect x="647.20" y="395.72" width="12.60" height="6.26" fill="#f9d2b3" />
<rect x="647.20" y="362.45" width="12.60" height="33.28" fill="#f7b9bc" />
<rect x="679.40" y="395.72" width="12.60" height="76.68" fill="#cde0f4" />
<rect x="679.40" y="389.47" width="12.60" height="6.26" fill="#f9d2b3" />
<rect x="679.40" y="368.71" width="12.60" height="20.76" fill="#f7b9bc" />
<rect x="565.10" y="344.30" width="13.80" height="6.50" fill="#f7b9bc" />
<text x="581.9" y="350.5" font-size="8.4" font-weight="bold" fill="#1a1a1a">C<tspan font-size="5.5" dy="2.6">2</tspan><tspan dy="-2.6">H</tspan><tspan font-size="5.5" dy="2.6">4</tspan></text>
<rect x="602.50" y="344.30" width="13.80" height="6.50" fill="#f9d2b3" />
<text x="619.7" y="350.5" font-size="8.4" font-weight="bold" fill="#1a1a1a">CH<tspan font-size="5.5" dy="2.6">4</tspan></text>
<rect x="637.20" y="344.30" width="13.80" height="6.50" fill="#b5c1de" />
<text x="654.4" y="350.5" font-size="8.4" text-anchor="start" font-weight="bold" fill="#1a1a1a" >HCOOH</text>
<rect x="565.10" y="357.60" width="13.80" height="6.50" fill="#79bbdf" />
<text x="581.9" y="363.8" font-size="8.4" text-anchor="start" font-weight="bold" fill="#1a1a1a" >CO</text>
<rect x="602.50" y="357.60" width="13.80" height="6.50" fill="#cde0f4" />
<text x="619.7" y="363.8" font-size="8.4" font-weight="bold" fill="#1a1a1a">H<tspan font-size="5.5" dy="2.6">2</tspan></text>
<rect x="540.30" y="342.00" width="160.60" height="130.40" fill="none" stroke="#3a3a3a" stroke-width="1.1"/>
<line x1="537.10" y1="342.00" x2="540.30" y2="342.00" stroke="#3a3a3a" stroke-width="1" />
<text x="535.9" y="345.1" font-size="8.5" text-anchor="end" font-weight="bold" fill="#1a1a1a" >125</text>
<line x1="537.10" y1="368.08" x2="540.30" y2="368.08" stroke="#3a3a3a" stroke-width="1" />
<text x="535.9" y="371.1" font-size="8.5" text-anchor="end" font-weight="bold" fill="#1a1a1a" >100</text>
<line x1="537.10" y1="394.16" x2="540.30" y2="394.16" stroke="#3a3a3a" stroke-width="1" />
<text x="535.9" y="397.2" font-size="8.5" text-anchor="end" font-weight="bold" fill="#1a1a1a" >75</text>
<line x1="537.10" y1="420.24" x2="540.30" y2="420.24" stroke="#3a3a3a" stroke-width="1" />
<text x="535.9" y="423.3" font-size="8.5" text-anchor="end" font-weight="bold" fill="#1a1a1a" >50</text>
<line x1="537.10" y1="446.32" x2="540.30" y2="446.32" stroke="#3a3a3a" stroke-width="1" />
<text x="535.9" y="449.4" font-size="8.5" text-anchor="end" font-weight="bold" fill="#1a1a1a" >25</text>
<line x1="537.10" y1="472.40" x2="540.30" y2="472.40" stroke="#3a3a3a" stroke-width="1" />
<text x="535.9" y="475.5" font-size="8.5" text-anchor="end" font-weight="bold" fill="#1a1a1a" >0</text>
<line x1="538.70" y1="355.04" x2="540.30" y2="355.04" stroke="#3a3a3a" stroke-width="1" />
<line x1="538.70" y1="381.12" x2="540.30" y2="381.12" stroke="#3a3a3a" stroke-width="1" />
<line x1="538.70" y1="407.20" x2="540.30" y2="407.20" stroke="#3a3a3a" stroke-width="1" />
<line x1="538.70" y1="433.28" x2="540.30" y2="433.28" stroke="#3a3a3a" stroke-width="1" />
<line x1="538.70" y1="459.36" x2="540.30" y2="459.36" stroke="#3a3a3a" stroke-width="1" />
<line x1="562.60" y1="472.40" x2="562.60" y2="475.60" stroke="#3a3a3a" stroke-width="1" />
<text x="562.6" y="483.5" font-size="8.5" text-anchor="middle" font-weight="bold" fill="#1a1a1a" >-1.0</text>
<line x1="595.00" y1="472.40" x2="595.00" y2="475.60" stroke="#3a3a3a" stroke-width="1" />
<text x="595.0" y="483.5" font-size="8.5" text-anchor="middle" font-weight="bold" fill="#1a1a1a" >-1.1</text>
<line x1="627.40" y1="472.40" x2="627.40" y2="475.60" stroke="#3a3a3a" stroke-width="1" />
<text x="627.4" y="483.5" font-size="8.5" text-anchor="middle" font-weight="bold" fill="#1a1a1a" >-1.2</text>
<line x1="659.80" y1="472.40" x2="659.80" y2="475.60" stroke="#3a3a3a" stroke-width="1" />
<text x="659.8" y="483.5" font-size="8.5" text-anchor="middle" font-weight="bold" fill="#1a1a1a" >-1.3</text>
<line x1="692.00" y1="472.40" x2="692.00" y2="475.60" stroke="#3a3a3a" stroke-width="1" />
<text x="692.0" y="483.5" font-size="8.5" text-anchor="middle" font-weight="bold" fill="#1a1a1a" >-1.4</text>
<line x1="546.40" y1="472.40" x2="546.40" y2="474.00" stroke="#3a3a3a" stroke-width="1" />
<line x1="578.80" y1="472.40" x2="578.80" y2="474.00" stroke="#3a3a3a" stroke-width="1" />
<line x1="611.20" y1="472.40" x2="611.20" y2="474.00" stroke="#3a3a3a" stroke-width="1" />
<line x1="643.60" y1="472.40" x2="643.60" y2="474.00" stroke="#3a3a3a" stroke-width="1" />
<line x1="675.80" y1="472.40" x2="675.80" y2="474.00" stroke="#3a3a3a" stroke-width="1" />
<text x="698.3" y="335.8" font-size="9.2" text-anchor="end" font-weight="bold" fill="#1a1a1a" >Potentiostatic</text>
<text x="620.8" y="496.3" font-size="11.0" text-anchor="middle" font-weight="bold" fill="#1a1a1a" >Potential (V vs. RHE)</text>
<text transform="translate(517.8,407.2) rotate(-90)" text-anchor="middle" font-size="11" font-weight="bold" fill="#1a1a1a">FE (%)</text>
</svg>
</body></html>
